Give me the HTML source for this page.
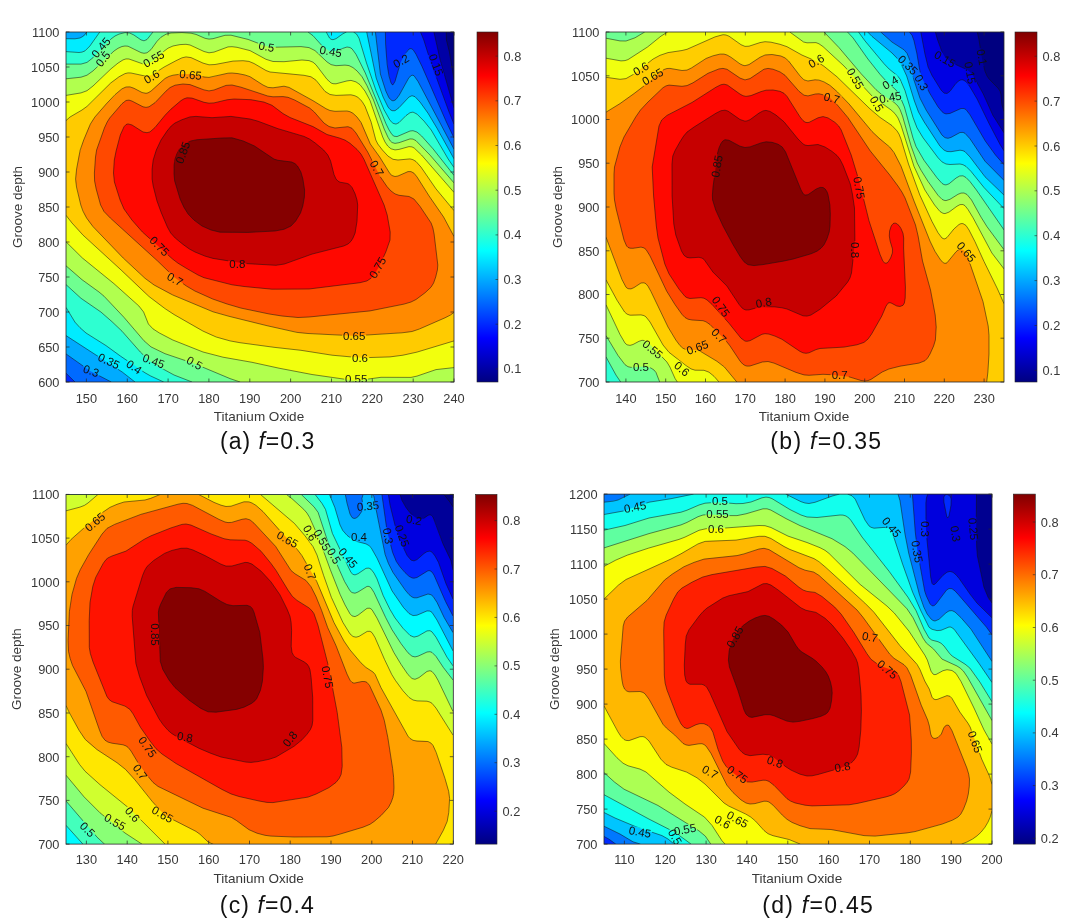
<!DOCTYPE html><html><head><meta charset="utf-8"><style>
html,body{margin:0;padding:0;background:#fff;width:1080px;height:924px;overflow:hidden}
svg{display:block}
.tk{font-family:"Liberation Sans",Arial,sans-serif;font-size:12.8px;fill:#383838}
.al{font-family:"Liberation Sans",Arial,sans-serif;font-size:13.5px;fill:#383838}
.cl{font-family:"Liberation Sans",Arial,sans-serif;font-size:11.5px;fill:#111;text-anchor:middle;dominant-baseline:central}
.cap{font-family:"Liberation Sans",Arial,sans-serif;font-size:23px;fill:#111}
</style></head><body>
<svg width="1080" height="924" viewBox="0 0 1080 924">
<clipPath id="clipa"><rect x="66" y="32" width="388" height="350"/></clipPath>
<g clip-path="url(#clipa)">
<rect x="66" y="32" width="388" height="350" fill="#000080"/>
<path d="M67 32l379.3 0l0.1 8l3 12l4.6 27.4l0 302.6l-388 0l0 -350l1 0z" fill="#0000a6" fill-rule="evenodd"/>
<path d="M67 32l366.9 0l6.3 28l13.8 47.9l0 274.1l-388 0l0 -350l1 0z" fill="#0000e7" fill-rule="evenodd"/>
<path d="M67 32l353.5 0l3.3 8l6.6 21l18.3 50l5.3 13.2l0 257.8l-388 0l0 -350l1 0z" fill="#0029ff" fill-rule="evenodd"/>
<path d="M67 32l318.4 0l0.7 20l1.9 18.6l3 12.2l1 1.7l1 0.3l2 -3.4l5.4 -18.4l3.6 -7.2l3 -4.8l2 -2l2 -0.5l2 1.1l3 4.6l6 12.2l24.4 55.6l7.6 16l0 244l-379 0l-1 -0.9l-8 -7.9l0 -341.2l1 0z" fill="#006aff" fill-rule="evenodd"/>
<path d="M67 32l308.4 0l5 42l5.4 17l3.2 6.9l3 2.8l2 0l2 -1.3l3.3 -4.4l9.7 -17.5l3 -2.4l2 0.6l4 5.7l36 67.8l0 232.8l-342.7 0l-21.2 -11l-24.1 -17.1l0 -321.9l1 0z" fill="#00abff" fill-rule="evenodd"/>
<path d="M87 32l279.7 0l9.5 46l6.9 19l4.9 10l2 2.4l2 1.3l3 0l4 -3l10 -10.7l3 -1.3l3 1l5 5.3l8 11.2l9 15l17 30.6l0 223.2l-319 0l-12.8 -10l-56.2 -36.4l0 -296.9l9 0.1l5 -0.8l3.6 -2l3.4 -4z" fill="#00ecff" fill-rule="evenodd"/>
<path d="M99 32.8l0.8 -0.8l226.4 0l3.3 6l1.5 1.3l2 0.4l3 -1l7 -5l3.5 -1.7l7 0l2.5 1.5l2 2.5l1.7 4l6.8 23l10.5 30.2l7 16.5l6 10.7l3 2.9l3 0.8l3 -1.5l7 -7l4 -2.9l3 -0.6l4 2l7 7l7.2 8.9l17 29l5.8 8.5l0 214.5l-290.3 0l-13 -6l-6.7 -3.9l-38 -26.5l-18.5 -11.6l-8.3 -7l-5.2 -6.2l-8 -13.4l0 -255.8l13 0.9l3 -0.4l2.8 -1.1l5.1 -5l9.1 -13.2z" fill="#2effd1" fill-rule="evenodd"/>
<path d="M123 32.9l4 -0.3l4 0.9l10 6.4l3 0.9l3 -1.3l6 -7.5l155 0l5 3.7l10 11.1l6 3.9l3 0.5l3 -0.3l12 -3.9l3 0.5l3 2.3l4 6.4l9 18.3l20 49.3l3 6.1l3 4.7l2 1.6l3 0.4l13 -5.6l3 -0.3l4 1.4l4.6 3.9l11.4 12.8l21 26.6l0 206.6l-262 0l-18 -7l-17 -9.3l-8 -5.3l-8.7 -8.4l-18.3 -20.8l-10 -9.5l-11.1 -9.7l-19.9 -13.7l-15 -13.7l0 -220.5l15 0l6 -1.7l6 -4.7l14 -14.9l5 -4.6l5 -3.3l6 -2z" fill="#6fff90" fill-rule="evenodd"/>
<path d="M171 33l11 -0.4l9 0.6l5 1.2l9 3.9l4 0.8l4 -0.4l12 -3.4l6 -0.1l17 4.2l16 6.1l5 1.2l8 0.4l23 -0.5l7 0.6l4 1.1l4 2.3l12 11.3l4 2.7l5 1.1l11 -0.5l4 1.2l4 2.7l4 3.8l6 8.8l8.1 17.3l11.5 31l3.4 7.3l2.3 3.7l1.7 1.5l3 0.9l4 -0.7l11 -3.8l3 0.2l3 1.6l14 14.4l24 27.8l0 199.1l-213.9 0l-3.1 -0.8l-43 -17.7l-29 -9.8l-9 -4l-6 -3.5l-7 -6.5l-19 -22.3l-20 -21.2l-5 -4.2l-17 -12.3l-16 -13.9l0 -187l15 -1.6l6 -2l6 -4.3l21 -19.9l4 -2.7l4 -1.8l3 -0.5l3 0.2l13 6.4l3 0.7l3 -0.5l4 -3.2l6 -8.3l4 -4.1l5 -3l5 -1.2z" fill="#b1ff4e" fill-rule="evenodd"/>
<path d="M178 44.9l6 -0.7l5 0.5l5 1.9l10 4.9l5 1.3l5 -0.7l14 -5.2l4 -0.2l5 0.6l13 3.3l16 8.7l7 2.2l9 0.2l19 -1.7l7 0.4l4 1.3l3 2.1l12 15.5l4.1 3.7l1.9 0.7l3 0.1l14 -3.4l3 0.3l3 1.2l3 1.9l3 3l7 11.5l3 7.3l10.7 31.4l2.3 5l3 4.3l3 2.5l4 1.1l4 -0.5l10 -2.8l3 0.3l2 0.9l7 6.7l30.4 34.5l2.6 3.4l0 175.2l-18 2l-19 6.5l-6 1.3l-30 -0.1l-21 2.9l-7 0.2l-41 -5.9l-33 -6.3l-27 -5.9l-29 -5.1l-20 -5.2l-30.2 -12l-13.4 -7l-6.4 -4.1l-4.6 -4.9l-4.8 -12l-4.7 -6l-24.9 -22.3l-31.6 -25.7l-16.4 -16.2l0 -146.4l15 -2.5l6 -2.2l6 -4.7l18 -17.2l7 -5.7l5 -3.2l3 -1l3 0.1l13 4.6l3 0.5l3 -0.4l6 -3.3l10 -9.2l4 -3l4 -1.9l6 -1.4z" fill="#f2ff0d" fill-rule="evenodd"/>
<path d="M185 57l3 -0.1l3 0.7l13 5.9l6 1.4l5 -0.4l17 -3.3l9 -0.5l6 0.3l6 2l11 6.5l6 2.5l5 0.8l15 0.9l19 2.4l3 1.1l3 2l9 11.2l5 3.7l6 1.3l12 -0.7l5 0.3l5 1.8l4 3.3l4 6.2l5 12.5l6.2 22.2l2.3 4l3.9 5l5.6 6.1l5 3.2l5 0.7l12 -1.1l3 0.8l3 1.8l5 5.6l15 21.8l18 21.7l0 130.3l-36 10.9l-14 3.2l-14 1.9l-28 0.9l-29 -2.5l-33 -5.1l-30 -3.4l-34.6 -4.8l-12.7 -3l-11.7 -4l-12 -6.1l-27 -15.6l-14 -9.9l-14 -11.2l-22 -21.3l-41.1 -37.9l-9.8 -11l-5.1 -6.7l0 -94.7l4 -3.6l12 -7l5 -3.6l7 -6.4l16 -16.4l6 -4.7l6 -3.9l4 -1.7l4 -0.4l14 2.9l6 -0.3l4 -1.9l15 -9.3l11 -5.6l5 -1.7z" fill="#ffcb00" fill-rule="evenodd"/>
<path d="M183 74l9 0.2l16 3.3l5 -0.6l11 -2.9l6 -1l6 0.3l8 1.4l7 2.5l11.9 7.8l5.1 2.4l5 0.4l11 -1.6l5 1.2l24 13.3l13 8l4 1.8l5 0.8l13 -0.1l4 1.4l3 2.3l4 4.6l3 4.7l8.8 20.8l8.9 12l10.3 16.7l2 1.8l3 1l3 -0.5l10 -4.4l3 0l3 1.6l3 3.7l12.1 19.1l13.9 20l8.9 16l2.1 4.5l0 75.9l-7 4.5l-25.2 11.1l-7.8 3l-6 1.2l-54 3.6l-53 -2.8l-26 -5.4l-42 -10.3l-20 -5.5l-43 -18.1l-16 -8.8l-9 -6.6l-22.8 -21.3l-28.8 -30l-4.2 -5l-4.4 -7l-4 -10l-5.1 -23l0.2 -8l3 -18l3.6 -13l6 -15l3.6 -7l4.4 -6l11.5 -13l12 -11.7l5 -3l4 -0.6l4 1.1l10 5.1l4 0.2l4 -2l11 -10.3l5 -3.5l6 -2.1l10 -1.2z" fill="#ff8a00" fill-rule="evenodd"/>
<path d="M183 84l7 0.6l14 5.3l5 1l5 -0.9l12 -4.6l6 -0.4l9 2.2l26.7 8.8l5.3 0.8l10 -0.2l5 0.7l6.6 2.7l15 8l4.7 4l9.6 11l5.1 3.5l6 1.5l13 -1.3l4 1.6l4 4.7l11.7 19l12.7 25l6.6 9.6l4 4.4l4 2.9l4 1.4l10 1.2l4.9 2.5l6.1 7.4l11.1 16.6l1.8 5l1.2 6l3.7 31l-0.4 5l-1.7 7l-2.1 6l-2.6 4.2l-6 5.6l-9 6.7l-5 2.5l-7 2.1l-34 6.8l-61 6.1l-11 0.5l-16 -1.5l-12.7 -2l-28.3 -5.9l-13.9 -4.1l-14.4 -5l-17.8 -8l-8.5 -5l-11.4 -8.2l-17.4 -16.8l-47.3 -43l-6.3 -6.5l-3.4 -6.5l-4.4 -16l-1.6 -8l-0.2 -8l1.1 -16l1.1 -7l7.8 -22l2.8 -6l2.5 -4l12.3 -14.3l4 -3.2l3 -0.4l3 1l11 5.7l3 0.6l3 -0.6l6 -4.1l11 -11.6l4 -3.5l5 -2.4l8 -1.2z" fill="#ff4900" fill-rule="evenodd"/>
<path d="M187 97.8l5 0.3l12 4.2l5 0.9l5 -0.3l13 -3.1l7 -0.8l17 0.7l13 2.4l8 3.2l11 8.3l7 3.9l23 9.1l14 7.9l12.4 3.5l5.6 2.1l5 3.2l7 6.1l4 4.7l3 5.3l20.1 45.6l3.1 10l3 17l-0.2 8l-4.2 12l-7 15l-4.2 7l-3.3 4l-4.3 2.9l-7 1.8l-51 6.3l-37 0.2l-28 -2.7l-12 -1.7l-28 -7.1l-6 -2.7l-12 -6.9l-8 -4.9l-5.5 -4.2l-30.1 -27l-10.5 -12l-7.9 -11l-3.9 -9l-5.7 -18l-0.9 -9l0.8 -13l1.8 -9l4.2 -16l3.7 -8.2l2 -2.2l2 -0.7l4 1.1l11 7l4 0.7l3 -0.8l5 -4.4l10 -12.2l6 -6.2l10 -8.5l3 -1.8l3 -1z" fill="#ff0800" fill-rule="evenodd"/>
<path d="M190 116.9l6 -0.5l16 1.3l19 -1.3l19 2.6l8 2.2l20 7.5l26 7.7l5.5 2.6l5.7 4l8.4 7l4.2 5l2.8 6l3.4 13.5l2 4.5l2 2.1l2 1.1l7 1.2l2 0.8l3 3.2l3 6.2l2 6.4l0.7 5l-0.7 16.3l-1.9 11.7l-2.1 5l-2 3.3l-3 2.7l-4.3 2l-31.7 8.1l-27.6 9.9l-8.4 1.3l-31 -1.8l-32 -5.1l-8 -2.3l-10 -4.1l-5.6 -3l-6.4 -4.6l-7.8 -6.4l-4.5 -5l-3.3 -6l-6 -14l-4.4 -12l-3.8 -15l-1.1 -7l0 -10l1.1 -9l3.1 -10l4.7 -10l6 -8.9l4.2 -5.1l3.8 -3l7 -3.3l8 -2.8z" fill="#c60000" fill-rule="evenodd"/>
<path d="M222 138l10 -0.2l11.3 3.2l11.2 5l19.5 13.1l4 1.2l13.6 1.7l3.4 1.6l2.5 2.4l3.4 6l2 7l1.7 11l-0.2 7l-1.6 9l-2.3 7l-4.8 8l-4.7 5l-7 3.3l-9 1.7l-27 1.4l-28 -0.2l-9 -2.2l-9 -4l-8 -5.9l-5.9 -6.1l-4.1 -6.6l-3.9 -8.4l-5.4 -18l-0.7 -7l0.1 -9l0.9 -6l1.8 -5l2.2 -4.2l3 -3.6l4 -3l5 -2.3l6 -1.2l25 -1.7z" fill="#850000" fill-rule="evenodd"/>
<mask id="ma" maskUnits="userSpaceOnUse" x="66" y="32" width="388" height="350"><rect x="66" y="32" width="388" height="350" fill="#fff"/><rect x="89.0" y="43.0" width="23.9" height="9.0" fill="#000" transform="rotate(-50 101.0 47.5)"/><rect x="93.8" y="54.5" width="18.3" height="9.0" fill="#000" transform="rotate(-50 103.0 59.0)"/><rect x="141.7" y="54.5" width="23.9" height="9.0" fill="#000" transform="rotate(-30 153.6 59.0)"/><rect x="142.4" y="72.2" width="18.3" height="9.0" fill="#000" transform="rotate(-30 151.6 76.7)"/><rect x="178.7" y="70.3" width="23.9" height="9.0" fill="#000" transform="rotate(5 190.6 74.8)"/><rect x="257.4" y="42.2" width="18.3" height="9.0" fill="#000" transform="rotate(10 266.5 46.7)"/><rect x="318.9" y="46.9" width="23.9" height="9.0" fill="#000" transform="rotate(10 330.8 51.4)"/><rect x="391.9" y="56.5" width="18.3" height="9.0" fill="#000" transform="rotate(-30 401.0 61.0)"/><rect x="424.1" y="60.5" width="23.9" height="9.0" fill="#000" transform="rotate(70 436.0 65.0)"/><rect x="170.9" y="148.2" width="23.9" height="9.0" fill="#000" transform="rotate(-70 182.8 152.7)"/><rect x="367.7" y="163.8" width="18.3" height="9.0" fill="#000" transform="rotate(60 376.8 168.3)"/><rect x="147.5" y="241.7" width="23.9" height="9.0" fill="#000" transform="rotate(45 159.4 246.2)"/><rect x="228.2" y="259.2" width="18.3" height="9.0" fill="#000" transform="rotate(0 237.3 263.7)"/><rect x="365.7" y="263.1" width="23.9" height="9.0" fill="#000" transform="rotate(-60 377.6 267.6)"/><rect x="165.8" y="274.8" width="18.3" height="9.0" fill="#000" transform="rotate(30 175.0 279.3)"/><rect x="342.2" y="331.3" width="23.9" height="9.0" fill="#000" transform="rotate(0 354.2 335.8)"/><rect x="350.9" y="353.9" width="18.3" height="9.0" fill="#000" transform="rotate(0 360.0 358.4)"/><rect x="344.2" y="374.2" width="23.9" height="9.0" fill="#000" transform="rotate(0 356.2 378.7)"/><rect x="82.1" y="366.4" width="18.3" height="9.0" fill="#000" transform="rotate(20 91.2 370.9)"/><rect x="96.8" y="356.6" width="23.9" height="9.0" fill="#000" transform="rotate(25 108.8 361.1)"/><rect x="124.8" y="362.5" width="18.3" height="9.0" fill="#000" transform="rotate(35 134.0 367.0)"/><rect x="141.7" y="356.6" width="23.9" height="9.0" fill="#000" transform="rotate(20 153.6 361.1)"/><rect x="185.3" y="358.5" width="18.3" height="9.0" fill="#000" transform="rotate(30 194.5 363.0)"/></mask>
<path d="M446.3 32l0.1 8l3 12l4.6 27.4 M433.9 32l6.3 28l13.8 47.9 M420.5 32l3.3 8l6.6 21l18.3 50l5.3 13.2 M385.4 32l0.2 12l1.5 20l1.9 12l2 6.8l1 1.7l1 0.3l2 -3.4l5.1 -17.4l4.9 -9.9l4 -5.1l2 -0.5l2 1.1l3 4.6l6 12.2l24.4 55.6l7.6 16M75 382l-9 -8.8 M375.4 32l5 42l5.4 17l3.2 6.9l3 2.8l2 0l2 -1.3l3.3 -4.4l9.7 -17.5l3 -2.4l2 0.6l4 5.7l36 67.8M111.3 382l-21.2 -11l-24.1 -17.1 M366.7 32l9.5 46l6.9 19l4.9 10l2 2.4l2 1.3l3 0l4 -3l10 -10.7l3 -1.3l3 1l5 5.3l8 11.2l9 15l17 30.6M66 38.7l9 0.1l5 -0.8l3.6 -2l3.3 -4M135 382l-12.8 -10l-56.2 -36.4 M326.2 32l3.3 6l1.5 1.3l2 0.4l3 -1l7 -5l3.5 -1.7M353.5 32l3 2l2.5 4.2l7.5 24.8l9.5 27.6l8 19.1l6 10.7l3 2.9l3 0.8l3 -1.5l7 -7l4 -2.9l3 -0.6l4 2l7 7l7.2 8.9l17 29l5.8 8.5M66 51.6l13 0.9l3 -0.4l3 -1.2l4.9 -4.9l9.9 -14M163.7 382l-13 -6l-5.7 -3.2l-24.7 -16.8l-14.3 -10.4l-20 -12.6l-6 -5.3l-5 -5.5l-9 -14.8 M308 32l5 3.7l10 11.1l6 3.9l3 0.5l3 -0.3l12 -3.9l3 0.5l2 1.3l4 5.5l9.3 18.7l20.7 50.8l3 6.1l3 4.7l2 1.6l3 0.4l13 -5.6l3 -0.3l4 1.4l4.6 3.9l11.4 12.8l21 26.6M66 64.1l15 0l6 -1.7l6 -4.7l18 -18.7l4 -3l4 -1.9l6 -1.5l4.6 0.4l4.3 2l7.1 4.9l3 0.9l3 -1.3l6 -7.5M192 382l-18 -7l-17 -9.3l-8 -5.3l-8.7 -8.4l-18.3 -20.8l-10 -9.5l-11.1 -9.7l-19.9 -13.7l-15 -13.7 M66 78.8l15 -1.6l6 -2l6 -4.3l21 -19.9l4 -2.7l4 -1.8l3 -0.5l3 0.2l13 6.4l3 0.7l3 -0.5l4 -3.2l6 -8.3l4 -4.1l5 -3l5 -1.2l11 -0.4l9 0.6l5 1.2l9 3.9l4 0.8l4 -0.4l12 -3.4l6 -0.1l17 4.2l16 6.1l5 1.2l7 0.5l25 -0.6l8 1l6 3l12 11.3l4 2.7l5 1.1l9 -0.6l4 0.5l4 2l4 3.3l5 5.8l5 9l6.5 14.3l10.7 29l3.8 8.3l2.3 3.7l1.7 1.5l3 0.9l4 -0.7l11 -3.8l3 0.2l3 1.6l14 14.4l24 27.8M240.1 382l-10.1 -3.4l-36 -15.1l-29 -9.8l-14 -6.8l-7 -6.1l-20 -23.4l-20 -21.2l-5 -4.2l-17 -12.3l-16 -13.9 M66 95.4l15 -2.5l6 -2.2l6 -4.7l18 -17.2l7 -5.7l5 -3.2l3 -1l3 0.1l13 4.6l3 0.5l3 -0.4l6 -3.3l10 -9.2l4 -3l5 -2.2l7 -1.4l6 -0.3l4 0.7l14 6.5l5 1.3l5 -0.7l14 -5.2l4 -0.2l5 0.6l13 3.3l16 8.7l7 2.2l11 0.2l18 -1.7l7 0.6l4 1.6l3 2.6l11 14.5l4.1 3.7l1.9 0.7l3 0.1l11 -2.9l4 -0.5l5 1.5l4 2.8l5 6.4l5 9.4l12.7 36.5l2.3 5l2.7 4l3.3 2.8l4 1.1l4 -0.5l10 -2.8l3 0.3l2.2 1.1l7.3 7l32.5 37.4M454 367.6l-18 2l-19 6.5l-6 1.3l-30 -0.1l-21 2.9l-7 0.2l-41 -5.9l-33 -6.3l-27 -5.9l-29 -5.1l-20 -5.2l-30.2 -12l-13.4 -7l-6.4 -4.1l-4.6 -4.9l-4.8 -12l-4.7 -6l-24.9 -22.3l-31.6 -25.7l-16.4 -16.2 M66 120.6l4 -3.6l12 -7l5 -3.6l23.7 -23.4l8.3 -6.2l6 -3.2l3 -0.7l3 0.1l13 2.8l6 -0.3l4 -1.9l10 -6.5l12 -6.4l6 -2.9l4 -0.9l5 0.7l12 5.5l6 1.7l6 -0.3l18 -3.4l10 -0.4l6 0.7l5 2.1l12 7l4 1.5l34 3.3l7 1.5l5 3.4l9 11.2l5 3.1l6 0.9l15 -0.6l4 1l3 1.6l4 3.9l3 5l6.1 15.7l4.7 18l2 4l4.6 6l5.6 6.1l5 3.2l5 0.7l12 -1.1l3 0.8l3 1.8l5 5.6l15 21.8l18 21.7M454 340.9l-37 11.2l-14 3.1l-13 1.7l-29 0.9l-29 -2.6l-31 -4.9l-27 -3l-34 -4.6l-10 -1.8l-13.8 -3.9l-13.2 -5.9l-29 -16.6l-9 -5.9l-16 -12.1l-27.9 -26.5l-38.1 -34.9l-11 -12.1l-6 -7.7 M454 312.4l-3.5 2.6l-5.5 2.8l-25.6 11.2l-7.4 2.5l-10 1.3l-48 3l-46 -2.3l-11 -1.1l-30 -6.7l-38 -9.4l-16 -4.5l-40.2 -16.8l-18.7 -10l-9.1 -6.7l-21.8 -20.3l-30.2 -31.4l-6.4 -8.6l-3.7 -7l-2.1 -6l-4.3 -18l-0.9 -8l1 -10l3.6 -19l3.5 -10l6.7 -16l4.5 -7l11.3 -13l8.8 -9.3l7 -5.9l4 -1.8l4 -0.1l4 1.4l8 4.2l4 0.8l2 -0.4l3 -1.8l14 -12.6l4 -2.1l4 -1.2l8 -1.1l8 -0.2l5 0.6l10 2.5l5 0.4l19 -4.2l4 -0.2l6 0.6l7 1.4l5 1.7l13 8.3l5 2.4l5 0.4l11 -1.6l5 1.2l24 13.3l13 8l4 1.8l5 0.8l12 -0.3l3 0.7l3 1.6l4 3.7l4 5.4l9.3 21.6l9.4 13l10.3 16.7l2 1.8l3 1l3 -0.5l10 -4.4l3 0l3 1.6l3 3.7l12.1 19.1l14.5 21l10.4 19.5 M183 84l7 0.6l14 5.3l5 1l5 -0.9l12 -4.6l6 -0.4l9 2.2l26.7 8.8l5.3 0.8l10 -0.2l5 0.7l6.6 2.7l15 8l4.7 4l9.6 11l5.1 3.5l6 1.5l13 -1.3l4 1.6l4 4.7l11.7 19l12.7 25l6.6 9.6l4 4.4l4 2.9l4 1.4l10 1.2l4.9 2.5l6.1 7.4l11.1 16.6l1.8 5l1.2 6l3.7 31l-0.4 5l-1.7 7l-2.1 6l-2.6 4.2l-6 5.6l-9 6.7l-5 2.5l-7 2.1l-34 6.8l-61 6.1l-11 0.5l-16 -1.5l-12.7 -2l-28.3 -5.9l-13.9 -4.1l-14.4 -5l-17.8 -8l-8.5 -5l-11.4 -8.2l-17.4 -16.8l-47.3 -43l-6.3 -6.5l-3.4 -6.5l-4.4 -16l-1.6 -8l-0.2 -8l1.1 -16l1.1 -7l7.8 -22l2.8 -6l2.5 -4l12.3 -14.3l4 -3.2l3 -0.4l3 1l11 5.7l3 0.6l3 -0.6l6 -4.1l11 -11.6l4 -3.5l5 -2.4l8 -1.2 M187 97.8l5 0.3l12 4.2l5 0.9l5 -0.3l13 -3.1l7 -0.8l17 0.7l13 2.4l8 3.2l11 8.3l7 3.9l23 9.1l14 7.9l12.4 3.5l5.6 2.1l5 3.2l7 6.1l4 4.7l3 5.3l20.1 45.6l3.1 10l3 17l-0.2 8l-4.2 12l-7 15l-4.2 7l-3.3 4l-4.3 2.9l-7 1.8l-51 6.3l-37 0.2l-28 -2.7l-12 -1.7l-28 -7.1l-6 -2.7l-12 -6.9l-8 -4.9l-5.5 -4.2l-30.1 -27l-10.5 -12l-7.9 -11l-3.9 -9l-5.7 -18l-0.9 -9l0.8 -13l1.8 -9l4.2 -16l3.7 -8.2l2 -2.2l2 -0.7l4 1.1l11 7l4 0.7l3 -0.8l5 -4.4l10 -12.2l6 -6.2l10 -8.5l3 -1.8l3 -1 M190 116.9l6 -0.5l16 1.3l19 -1.3l19 2.6l8 2.2l20 7.5l26 7.7l5.5 2.6l5.7 4l8.4 7l4.2 5l2.8 6l3.4 13.5l2 4.5l2 2.1l2 1.1l7 1.2l2 0.8l3 3.2l3 6.2l2 6.4l0.7 5l-0.7 16.3l-1.9 11.7l-2.1 5l-2 3.3l-3 2.7l-4.3 2l-31.7 8.1l-27.6 9.9l-8.4 1.3l-31 -1.8l-32 -5.1l-8 -2.3l-10 -4.1l-5.6 -3l-6.4 -4.6l-7.8 -6.4l-4.5 -5l-3.3 -6l-6 -14l-4.4 -12l-3.8 -15l-1.1 -7l0 -10l1.1 -9l3.1 -10l4.7 -10l6 -8.9l4.2 -5.1l3.8 -3l7 -3.3l8 -2.8 M222 138l10 -0.2l11.3 3.2l11.2 5l19.5 13.1l4 1.2l13.6 1.7l3.4 1.6l2.5 2.4l3.4 6l2 7l1.7 11l-0.2 7l-1.6 9l-2.3 7l-4.8 8l-4.7 5l-7 3.3l-9 1.7l-27 1.4l-28 -0.2l-9 -2.2l-9 -4l-8 -5.9l-5.9 -6.1l-4.1 -6.6l-3.9 -8.4l-5.4 -18l-0.7 -7l0.1 -9l0.9 -6l1.8 -5l2.2 -4.2l3 -3.6l4 -3l5 -2.3l6 -1.2l25 -1.7" fill="none" stroke="#111" stroke-opacity="0.8" stroke-width="0.65" mask="url(#ma)"/>
<text x="101" y="47.5" transform="rotate(-50 101 47.5)" class="cl">0.45</text>
<text x="103" y="59" transform="rotate(-50 103 59)" class="cl">0.5</text>
<text x="153.6" y="59" transform="rotate(-30 153.6 59)" class="cl">0.55</text>
<text x="151.6" y="76.7" transform="rotate(-30 151.6 76.7)" class="cl">0.6</text>
<text x="190.6" y="74.8" transform="rotate(5 190.6 74.8)" class="cl">0.65</text>
<text x="266.5" y="46.7" transform="rotate(10 266.5 46.7)" class="cl">0.5</text>
<text x="330.8" y="51.4" transform="rotate(10 330.8 51.4)" class="cl">0.45</text>
<text x="401" y="61" transform="rotate(-30 401 61)" class="cl">0.2</text>
<text x="436" y="65" transform="rotate(70 436 65)" class="cl">0.15</text>
<text x="182.8" y="152.7" transform="rotate(-70 182.8 152.7)" class="cl">0.85</text>
<text x="376.8" y="168.3" transform="rotate(60 376.8 168.3)" class="cl">0.7</text>
<text x="159.4" y="246.2" transform="rotate(45 159.4 246.2)" class="cl">0.75</text>
<text x="237.3" y="263.7" transform="rotate(0 237.3 263.7)" class="cl">0.8</text>
<text x="377.6" y="267.6" transform="rotate(-60 377.6 267.6)" class="cl">0.75</text>
<text x="175" y="279.3" transform="rotate(30 175 279.3)" class="cl">0.7</text>
<text x="354.2" y="335.8" transform="rotate(0 354.2 335.8)" class="cl">0.65</text>
<text x="360" y="358.4" transform="rotate(0 360 358.4)" class="cl">0.6</text>
<text x="356.2" y="378.7" transform="rotate(0 356.2 378.7)" class="cl">0.55</text>
<text x="91.2" y="370.9" transform="rotate(20 91.2 370.9)" class="cl">0.3</text>
<text x="108.8" y="361.1" transform="rotate(25 108.8 361.1)" class="cl">0.35</text>
<text x="134" y="367" transform="rotate(35 134 367)" class="cl">0.4</text>
<text x="153.6" y="361.1" transform="rotate(20 153.6 361.1)" class="cl">0.45</text>
<text x="194.5" y="363" transform="rotate(30 194.5 363)" class="cl">0.5</text>
</g>
<rect x="66" y="32" width="388" height="350" fill="none" stroke="#262626" stroke-width="0.8"/>
<text x="86.4" y="402.5" class="tk" text-anchor="middle">150</text>
<text x="127.3" y="402.5" class="tk" text-anchor="middle">160</text>
<text x="168.1" y="402.5" class="tk" text-anchor="middle">170</text>
<text x="208.9" y="402.5" class="tk" text-anchor="middle">180</text>
<text x="249.8" y="402.5" class="tk" text-anchor="middle">190</text>
<text x="290.6" y="402.5" class="tk" text-anchor="middle">200</text>
<text x="331.5" y="402.5" class="tk" text-anchor="middle">210</text>
<text x="372.3" y="402.5" class="tk" text-anchor="middle">220</text>
<text x="413.2" y="402.5" class="tk" text-anchor="middle">230</text>
<text x="454.0" y="402.5" class="tk" text-anchor="middle">240</text>
<text x="59.5" y="386.8" class="tk" text-anchor="end">600</text>
<text x="59.5" y="351.8" class="tk" text-anchor="end">650</text>
<text x="59.5" y="316.8" class="tk" text-anchor="end">700</text>
<text x="59.5" y="281.8" class="tk" text-anchor="end">750</text>
<text x="59.5" y="246.8" class="tk" text-anchor="end">800</text>
<text x="59.5" y="211.8" class="tk" text-anchor="end">850</text>
<text x="59.5" y="176.8" class="tk" text-anchor="end">900</text>
<text x="59.5" y="141.8" class="tk" text-anchor="end">950</text>
<text x="59.5" y="106.8" class="tk" text-anchor="end">1000</text>
<text x="59.5" y="71.8" class="tk" text-anchor="end">1050</text>
<text x="59.5" y="36.8" class="tk" text-anchor="end">1100</text>
<path d="M86.4 382.0v-3.5M86.4 32.0v3.5M127.3 382.0v-3.5M127.3 32.0v3.5M168.1 382.0v-3.5M168.1 32.0v3.5M208.9 382.0v-3.5M208.9 32.0v3.5M249.8 382.0v-3.5M249.8 32.0v3.5M290.6 382.0v-3.5M290.6 32.0v3.5M331.5 382.0v-3.5M331.5 32.0v3.5M372.3 382.0v-3.5M372.3 32.0v3.5M413.2 382.0v-3.5M413.2 32.0v3.5M454.0 382.0v-3.5M454.0 32.0v3.5M66.0 382.0h3.5M454.0 382.0h-3.5M66.0 347.0h3.5M454.0 347.0h-3.5M66.0 312.0h3.5M454.0 312.0h-3.5M66.0 277.0h3.5M454.0 277.0h-3.5M66.0 242.0h3.5M454.0 242.0h-3.5M66.0 207.0h3.5M454.0 207.0h-3.5M66.0 172.0h3.5M454.0 172.0h-3.5M66.0 137.0h3.5M454.0 137.0h-3.5M66.0 102.0h3.5M454.0 102.0h-3.5M66.0 67.0h3.5M454.0 67.0h-3.5M66.0 32.0h3.5M454.0 32.0h-3.5" stroke="#262626" stroke-width="0.7" fill="none"/>
<linearGradient id="ga" x1="0" y1="0" x2="0" y2="1"><stop offset="0.0000" stop-color="#800000"/><stop offset="0.0312" stop-color="#9f0000"/><stop offset="0.0625" stop-color="#bf0000"/><stop offset="0.0938" stop-color="#df0000"/><stop offset="0.1250" stop-color="#ff0000"/><stop offset="0.1562" stop-color="#ff2000"/><stop offset="0.1875" stop-color="#ff4000"/><stop offset="0.2188" stop-color="#ff6000"/><stop offset="0.2500" stop-color="#ff8000"/><stop offset="0.2812" stop-color="#ff9f00"/><stop offset="0.3125" stop-color="#ffbf00"/><stop offset="0.3438" stop-color="#ffdf00"/><stop offset="0.3750" stop-color="#ffff00"/><stop offset="0.4062" stop-color="#dfff20"/><stop offset="0.4375" stop-color="#bfff40"/><stop offset="0.4688" stop-color="#9fff60"/><stop offset="0.5000" stop-color="#80ff80"/><stop offset="0.5312" stop-color="#60ff9f"/><stop offset="0.5625" stop-color="#40ffbf"/><stop offset="0.5938" stop-color="#20ffdf"/><stop offset="0.6250" stop-color="#00ffff"/><stop offset="0.6562" stop-color="#00dfff"/><stop offset="0.6875" stop-color="#00bfff"/><stop offset="0.7188" stop-color="#009fff"/><stop offset="0.7500" stop-color="#0080ff"/><stop offset="0.7812" stop-color="#0060ff"/><stop offset="0.8125" stop-color="#0040ff"/><stop offset="0.8438" stop-color="#0020ff"/><stop offset="0.8750" stop-color="#0000ff"/><stop offset="0.9062" stop-color="#0000df"/><stop offset="0.9375" stop-color="#0000bf"/><stop offset="0.9688" stop-color="#00009f"/><stop offset="1.0000" stop-color="#000080"/></linearGradient>
<rect x="477" y="32" width="21" height="350" fill="url(#ga)" stroke="#262626" stroke-width="0.6"/>
<text x="503.5" y="373.4" class="tk">0.1</text>
<text x="503.5" y="328.7" class="tk">0.2</text>
<text x="503.5" y="284.0" class="tk">0.3</text>
<text x="503.5" y="239.4" class="tk">0.4</text>
<text x="503.5" y="194.7" class="tk">0.5</text>
<text x="503.5" y="150.0" class="tk">0.6</text>
<text x="503.5" y="105.3" class="tk">0.7</text>
<text x="503.5" y="60.6" class="tk">0.8</text>
<path d="M498.0 368.9h-2.5M498.0 324.2h-2.5M498.0 279.5h-2.5M498.0 234.9h-2.5M498.0 190.2h-2.5M498.0 145.5h-2.5M498.0 100.8h-2.5M498.0 56.1h-2.5" stroke="#262626" stroke-width="0.6"/>
<text x="259.0" y="421.2" class="al" text-anchor="middle">Titanium Oxide</text>
<text x="21.5" y="207.0" class="al" text-anchor="middle" transform="rotate(-90 21.5 207.0)">Groove depth</text>
<text x="267.1" y="449.2" class="cap" text-anchor="middle" textLength="94.2" lengthAdjust="spacing">(a) <tspan font-style="italic">f</tspan>=0.3</text>
<clipPath id="clipb"><rect x="606" y="32" width="398" height="350"/></clipPath>
<g clip-path="url(#clipb)">
<rect x="606" y="32" width="398" height="350" fill="#000080"/>
<path d="M607 32l370.2 0l1.5 6l3.5 22l2.8 11.3l2 4.7l2 2.9l8.9 9.1l2.1 3l0.9 3l1.1 11l2 6.5l0 270.5l-398 0l0 -350l1 0z" fill="#0000a2" fill-rule="evenodd"/>
<path d="M607 32l328.4 0l1.9 7l4 11l2.3 5l2.1 3l6.7 5l14.6 6.7l4 3.3l2.3 3l10 18l9.7 21.5l11 17.3l0 249.2l-398 0l0 -350l1 0z" fill="#0000e3" fill-rule="evenodd"/>
<path d="M607 32l313.8 0l4.2 22.2l3.1 12.8l3.9 8.4l9 14.6l3 3.1l3 0.4l3 -2.2l6 -8l3 -2.6l2 -0.9l2 0.1l3 1.7l4 5.3l7 11.9l12.3 25.2l10.7 20.4l4 6.4l0 231.2l-398 0l0 -350l1 0z" fill="#0025ff" fill-rule="evenodd"/>
<path d="M607 32l302.4 0l2.6 3.2l2 5.5l2.8 12.3l3.1 18l2.1 7l7.6 15l8.4 13.8l4 4.9l2 1.5l2 0.7l4 -0.5l11 -4.9l3 0l2 1.1l4 5.2l15.3 26.2l10.2 14l8.5 9.7l0 217.3l-398 0l0 -350l1 0z" fill="#0067ff" fill-rule="evenodd"/>
<path d="M607 32l273.7 0l11.3 10.1l12 7.7l3 3.5l1.7 3.7l5 22l6.3 19.2l6 11.6l15 24.1l3 3.2l2 1l2 0.2l3 -0.9l9 -4.9l3 -0.1l2 0.9l5 5.5l15 22.4l19 19.2l0 201.6l-398 0l0 -350l1 0z" fill="#00a8ff" fill-rule="evenodd"/>
<path d="M607 32l260.7 0l5 5l17.1 14l7.2 7.2l5 7.1l5 11.5l7 23.2l4 11l5.5 10l16.5 25.2l4 3.9l3 1.4l4 0.2l9 -1.5l3 0.5l2 1l5 5.3l15 19.8l19 18.3l0 186.9l-398 0l0 -350l1 0z" fill="#00e9ff" fill-rule="evenodd"/>
<path d="M607 32l251.5 0l6.5 8.9l19 22.8l5.1 5.3l7.9 6.4l3 3.6l5 11.6l8 26.8l4 10.4l6 9.9l15 20l4 4.2l4 2.1l4 0.5l10 -0.5l3 0.7l3 1.7l5 5l13 16.1l20 21.1l0 173.4l-398 0l0 -350l1 0z" fill="#2cffd3" fill-rule="evenodd"/>
<path d="M607 32l240.5 0l1.2 1l4.3 4.9l14.9 21.1l11.9 15l6.3 7l9.9 9l3 4l5.4 13l8.6 31l3 8.5l8 13.8l13 17.5l5 5.6l2 1.2l2 0.3l3 -1.1l7.1 -5.8l3.6 -2l3.3 -0.2l3 1.7l4 4.1l6.4 8.4l27.6 39.9l0 152.1l-383.3 0l-4.7 -6.9l-10 -18.2l0 -324.9l1 0z" fill="#6dff92" fill-rule="evenodd"/>
<path d="M644 32.5l0.7 -0.5l179.3 0l2.2 2l13.2 14l21.6 25.6l15 16.1l6.2 5.3l11.8 7.3l4 3.8l2 3.4l2.5 6.5l8.5 29.8l6.2 17.2l3.8 7.2l7 11.2l10 13.9l4 4l2 1l2 0.3l4 -1.3l8 -5l3 -1.2l3 -0.1l3 1.5l4.5 5.5l9.5 17.1l6 9.6l17 23l0 132.3l-344.3 0l-3.7 -9.5l-2 -2.5l-3 -1.9l-3 -1.1l-4 -0.5l-13 0.9l-3 -0.7l-3 -2l-7 -9.2l-12 -19.9l0 -297.4l14 2.7l6 0.1l9 -3.2l9 -5.3z" fill="#afff50" fill-rule="evenodd"/>
<path d="M666 32.8l1.6 -0.8l122.2 0l13.8 10l3.4 0.8l9 -0.2l3 1.2l4 2.8l21 19.4l29 31l21 15.5l3 3.8l3 6.1l14.3 44.6l10.7 23.2l10 15.3l5 6l3 1.8l2 0.3l4 -1.5l8 -5.9l3 -1.6l3 -0.1l2 1.2l3 3.8l5 8.2l18.9 35.3l12.1 15.9l0 113.1l-326.7 0l-2.3 -3.6l-5.1 -11.4l-3 -5l-18.9 -19.7l-3 -1.7l-3 -0.3l-3 1l-6 3.2l-3 0.9l-3 -0.6l-2 -1.7l-5 -8.6l-14 -29.7l0 -246.6l15 2.7l4 -0.3l3 -1l20 -12.9l13 -10.6l5 -3.3z" fill="#f0ff0f" fill-rule="evenodd"/>
<path d="M721 34.9l4 -0.1l3.6 1.2l12.4 8.7l4 1.7l4 -0.2l11 -3.6l5 -0.9l6 0.5l9 2.1l7 2.4l15 8.4l15 6.4l7 4.8l12 9.6l35 33.9l9 7.6l12 8.2l4 4l3 4.5l2 4.9l7.5 25l11.3 31l12.2 26.5l6 11.2l4 5.3l2 0.9l1 -0.1l2 -1.3l6.9 -8.5l5.1 -4.5l2 -0.9l2 0l3 1.9l3 4.5l6 11.7l9 19.8l13.5 27.5l6.5 14.7l0 78.3l-285 0l-5 -5.7l-5 -4.1l-5 -1.9l-9 -0.1l-4 -1.3l-5 -3.3l-16.2 -12.6l-6.2 -7l-13.6 -24l-4 -5.1l-2 -1.3l-3 -0.7l-9 0.5l-3 -0.4l-3 -1.6l-2 -2.1l-9 -14.6l-9 -16.8l0 -202.6l14 2l6 -0.7l7 -3.9l18 -14.2l8 -4.8l9 -3.1l14 -2.1l5 -1.2l27 -12l7 -2.4z" fill="#ffcd00" fill-rule="evenodd"/>
<path d="M722 54l3 0.3l3 1.2l12 8.4l3 1.4l2 0.4l4 -1.1l11.6 -7.6l5.4 -2.2l4 -0.3l5 0.3l5 1l4 1.5l5.5 4.7l10.5 13.9l4 4l3 1.1l8 -1.2l5 0.6l7 3.1l6 4.3l17 17.2l22 26.5l19.5 17.5l4.5 7l5 10.1l13 35l16.4 40.9l4.6 9.4l5 7.9l2 2.4l2 1.5l2 0.1l1 -0.5l9 -11l2 -1.7l2 -0.8l2 0.1l2 1l2 2.3l1.6 3.3l15.4 45.6l5.2 24.4l0.8 9.3l0 18.7l-1.1 18l-1.2 10l-249.9 0l-12.4 -15l-7.4 -5.7l-17 -10.2l-4 -1.1l-10 -0.4l-3 -1.3l-3 -2.7l-4.2 -5.6l-7.8 -13l-17 -35.4l-3 -5.4l-2 -2.4l-2 -1l-3 0.2l-7 4.6l-3 1.3l-3 -0.2l-2.2 -1.7l-3.8 -7.4l-16 -42.4l0 -125l14 -8.6l14 -10l13.8 -10.6l12.2 -10.8l4 -2.7l3 -1l3 -0.1l12 2.1l5 -0.4l4 -1.9l16 -10.1l9 -3.2l6 -0.9z" fill="#ff8b00" fill-rule="evenodd"/>
<path d="M719 68.9l4 -0.5l4 0.9l13 8.8l5 1.8l5 -1.3l14 -9.4l4 -0.8l5 0.8l7 2.7l5 3.4l14 16l5 3.9l4 0.7l7.4 -1.9l3.6 -0.2l5 1.2l6 3l6 5.4l12 14.3l22.3 33.3l19.7 24.3l8 10.8l4 6.1l3 5.7l10.5 27.1l2.6 11l4.4 25l8 29l4.7 25l1 12l-0.8 13l-1.8 6l-3.6 8l-2.4 4l-2.6 2.7l-6 2.4l-19 3.1l-11.1 2.8l-6.7 3l-11.2 7.4l-3 1.2l-3 0.5l-4 -0.6l-12 -3.7l-18 -2.1l-8 -0.4l-14 1l-5 -0.4l-8 -2.5l-22 -9.3l-6 -1.6l-5.6 0.5l-12.4 4l-3 0.1l-2 -0.6l-2.3 -1.5l-2.7 -3l-10 -15.1l-4 -5.1l-16 -16.3l-4 -2.7l-3 -1.1l-11 -0.7l-4 -0.8l-3 -1.7l-3 -3.1l-7 -9.8l-8.4 -13.6l-16.6 -35.1l-4 -6.4l-2 -1.6l-3 -0.8l-8 1.2l-3 -0.1l-2 -0.8l-1.4 -1.4l-2.6 -6l-7.8 -31l-1.7 -9l-0.5 -7l0 -19l0.5 -7l5.4 -20l4.1 -10l11.7 -20l4.8 -7l7.5 -8l15 -14.3l3 -1.8l3 -0.8l13 1.2l5 -0.7l6 -2.8l15 -9.5l11 -4.4z" fill="#ff4a00" fill-rule="evenodd"/>
<path d="M721 84.7l3 -0.5l3.3 0.8l12.7 9.1l3 1.6l3 0.7l5 -0.8l10 -4l5 -1.4l7 -0.2l7 1.3l4 2l3 3.1l13 20.5l3 3.7l2 1.5l2 0.5l2 -0.2l9 -4.6l5 -1.2l5 1.3l7 4.5l3.7 3.6l2.5 4l10 25l8.2 27l9.6 38.8l11 33.6l3 7l2 1.8l2 -0.2l1 -0.8l2.6 -4.2l1.8 -5l0.1 -4l-2.4 -8l-0.8 -5l0.3 -5l1.6 -5l1.8 -2.3l1 -0.5l2 0l3 2.3l2 3l2 4.8l0.7 4.7l-0.1 10l1.8 39l-0.2 11l-0.8 5l-1.4 2.3l-3 1.2l-3.2 -0.5l-5.8 -3.1l-2 -0.2l-1 0.5l-2 3l-4.2 9.8l-10.2 18l-3.6 5.1l-4 3.3l-7 2.4l-13 2.3l-24 1.4l-4 1.1l-7 3.2l-3 0.5l-3 -0.5l-3 -1.4l-18 -12.1l-7 -3.2l-6 -2l-4 -0.4l-3 0.6l-12 6.4l-3 0.6l-2 -0.2l-4 -2.9l-12.2 -15.2l-16.8 -18.6l-5 -4.5l-3 -1.7l-3 -0.5l-11 0.8l-3 -0.8l-2 -1.3l-6 -7.3l-10 -15.3l-4.2 -9.8l-6.8 -26l-1.7 -12l-2.7 -30l-1.4 -29l6.8 -41l2.7 -6l5.3 -4.6l25 -12.9l24 -15.3l5 -2.5z" fill="#ff0800" fill-rule="evenodd"/>
<path d="M721 110.7l4 -0.5l3 0.9l12 8.4l5 1.7l2 -0.3l3 -1.2l9 -6.6l4 -2.2l3 -0.5l4 1l6 3.7l8 6.7l14 17.2l5 4.9l2 1.2l3 0.5l10 -1.1l7 2.5l7 4.4l5 4.1l3 3.8l3 5.9l7.3 18.8l2.1 10l2.1 14l0.4 34l-3.4 31l-1.5 4.9l-2.3 4.1l-11.5 14l-16.2 13.3l-9 5.7l-4 1.1l-4 -0.3l-16 -6.8l-5 -1.2l-7 -0.9l-12 -0.3l-5 0.8l-9 2.5l-3 0.1l-2 -0.7l-2 -1.4l-3 -3.6l-12.1 -18.3l-14 -14l-8.9 -12.6l-2 -1.3l-3 -0.8l-9 0.6l-3 -0.5l-3 -2.1l-2.5 -4.3l-5.7 -16l-2 -11l-1.7 -28l-0.1 -32l0.8 -8l2.2 -5.3l5 -8.9l3.7 -5.8l3.3 -3.9l7.1 -5.1l21.9 -13.8l5 -2.5z" fill="#c60000" fill-rule="evenodd"/>
<path d="M725 139.7l4 0.6l11 5.9l5 1.3l5 -0.6l11 -4l5 -1.1l6 0.5l6 1.9l4.2 2.8l3.4 5l15.4 37.9l2.3 4.1l1.7 1.1l3 -0.4l8.2 -5.7l3.8 -1.6l3 0.1l2.2 1.5l1.8 2.8l1 2.8l1.9 10.4l0.4 9l-0.3 12l-0.8 6l-2.3 7l-2.9 5.8l-3 3.4l-4 3l-6 2.6l-17.8 5.2l-10.2 2.2l-20 3.4l-9 1l-6 -0.9l-4 -2.9l-4 -5.5l-7 -11.7l-10 -18.6l-7.3 -16l-3.1 -10l-0.2 -5l0.6 -8l4.6 -34l1.4 -5.1l2 -4.5l1.8 -2.4l2.2 -1.3z" fill="#850000" fill-rule="evenodd"/>
<mask id="mb" maskUnits="userSpaceOnUse" x="606" y="32" width="398" height="350"><rect x="606" y="32" width="398" height="350" fill="#fff"/><rect x="631.8" y="64.4" width="18.3" height="9.0" fill="#000" transform="rotate(-30 641.0 68.9)"/><rect x="640.7" y="72.2" width="23.9" height="9.0" fill="#000" transform="rotate(-30 652.6 76.7)"/><rect x="807.1" y="56.6" width="18.3" height="9.0" fill="#000" transform="rotate(-30 816.3 61.1)"/><rect x="843.3" y="74.1" width="23.9" height="9.0" fill="#000" transform="rotate(60 855.2 78.6)"/><rect x="822.7" y="93.6" width="18.3" height="9.0" fill="#000" transform="rotate(15 831.9 98.1)"/><rect x="867.5" y="99.5" width="18.3" height="9.0" fill="#000" transform="rotate(60 876.7 104.0)"/><rect x="878.4" y="92.8" width="23.9" height="9.0" fill="#000" transform="rotate(-10 890.3 97.3)"/><rect x="881.2" y="78.0" width="18.3" height="9.0" fill="#000" transform="rotate(-30 890.3 82.5)"/><rect x="895.9" y="60.5" width="23.9" height="9.0" fill="#000" transform="rotate(45 907.8 65.0)"/><rect x="912.3" y="78.0" width="18.3" height="9.0" fill="#000" transform="rotate(60 921.5 82.5)"/><rect x="932.9" y="54.7" width="23.9" height="9.0" fill="#000" transform="rotate(30 944.9 59.2)"/><rect x="972.7" y="52.7" width="18.3" height="9.0" fill="#000" transform="rotate(80 981.9 57.2)"/><rect x="958.2" y="68.3" width="23.9" height="9.0" fill="#000" transform="rotate(80 970.2 72.8)"/><rect x="705.0" y="161.8" width="23.9" height="9.0" fill="#000" transform="rotate(-80 716.9 166.3)"/><rect x="847.2" y="183.2" width="23.9" height="9.0" fill="#000" transform="rotate(80 859.1 187.7)"/><rect x="846.1" y="245.6" width="18.3" height="9.0" fill="#000" transform="rotate(90 855.2 250.1)"/><rect x="954.3" y="247.5" width="23.9" height="9.0" fill="#000" transform="rotate(50 966.3 252.0)"/><rect x="708.9" y="302.1" width="23.9" height="9.0" fill="#000" transform="rotate(55 720.8 306.6)"/><rect x="754.5" y="298.2" width="18.3" height="9.0" fill="#000" transform="rotate(-10 763.7 302.7)"/><rect x="709.7" y="331.3" width="18.3" height="9.0" fill="#000" transform="rotate(45 718.9 335.8)"/><rect x="685.5" y="343.0" width="23.9" height="9.0" fill="#000" transform="rotate(-20 697.5 347.5)"/><rect x="640.7" y="344.9" width="23.9" height="9.0" fill="#000" transform="rotate(40 652.6 349.4)"/><rect x="672.7" y="364.4" width="18.3" height="9.0" fill="#000" transform="rotate(40 681.9 368.9)"/><rect x="631.8" y="362.5" width="18.3" height="9.0" fill="#000" transform="rotate(0 641.0 367.0)"/><rect x="830.5" y="370.2" width="18.3" height="9.0" fill="#000" transform="rotate(0 839.7 374.7)"/></mask>
<path d="M977.2 32l1.5 6l3.5 22l2.8 11.3l2 4.7l2 2.9l8.9 9.1l2.1 3l0.9 3l1.1 11l2 6.5 M935.4 32l1.9 7l4 11l2.3 5l2.1 3l6.7 5l14.6 6.7l4 3.3l2.3 3l10 18l9.7 21.5l11 17.3 M920.8 32l4.2 22.2l3.1 12.8l3.9 8.4l9 14.6l3 3.1l3 0.4l3 -2.2l6 -8l3 -2.6l2 -0.9l2 0.1l3 1.7l4 5.3l7 11.9l12.3 25.2l10.7 20.4l4 6.4 M909.4 32l2.6 3.2l2 5.5l2.8 12.3l3.1 18l2.1 7l7.6 15l8.4 13.8l4 4.9l2 1.5l2 0.7l4 -0.5l11 -4.9l3 0l2 1.1l4 5.2l15.3 26.2l10.2 14l8.5 9.7 M880.7 32l11.3 10.1l12 7.7l3 3.5l2 4.8l5 22.1l6 18l6.1 11.8l15.9 25.1l3 2.6l3 0.6l3 -0.9l9 -4.9l3 -0.1l2 0.9l5 5.5l15 22.4l19 19.2 M867.7 32l4.3 4.4l20 16.6l5 5.2l3.7 4.8l6 13l7.7 25l4.1 11l5.7 10l15.8 24.2l4 3.9l3 1.4l4 0.2l9 -1.5l3 0.5l2 1l5 5.3l15 19.8l19 18.3 M858.5 32l6.5 8.9l19 22.8l5.1 5.3l7.9 6.4l3 3.6l5 11.6l8 26.8l4 10.4l6 9.9l15 20l4 4.2l4 2.1l4 0.5l10 -0.5l3 0.7l3 1.7l5 5l13 16.1l20 21.1 M847.5 32l5.5 5.9l14.9 21.1l12.1 15.3l6.1 6.7l9.9 9l3 4l5.4 13l8.6 31l3 8.5l8 13.8l13 17.5l5 5.6l2 1.2l2 0.3l3 -1.1l7.1 -5.8l3.6 -2l3.3 -0.2l3 1.7l4 4.1l6.4 8.4l27.6 39.9M620.7 382l-4.7 -6.9l-10 -18.2 M824 32l15 15.6l22 26l15 16.1l6.2 5.3l11.8 7.3l4 3.8l2 3.4l2.5 6.5l8.5 29.8l6.2 17.2l3.8 7.2l7 11.2l10 13.9l4 4l2 1l2 0.3l4 -1.3l8 -5l3 -1.2l3 -0.1l3 1.5l4.5 5.5l9.5 17.1l6 9.6l17 23M606 38.2l14 2.7l6 0.1l9 -3.2l9.7 -5.8M659.7 382l-3.7 -9.5l-2 -2.5l-3 -1.9l-3 -1.1l-4 -0.5l-13 0.9l-3 -0.7l-3 -2l-7 -9.2l-12 -19.9 M789.8 32l13.8 10l3.4 0.8l9 -0.2l3 1.2l4 2.8l21 19.4l29 31l18 12.9l4 3.7l3 4.4l3 7.2l13 41.2l10.9 23.6l9.7 15l5.4 6.5l3 1.8l2 0.3l4 -1.5l8 -5.9l3 -1.6l3 -0.1l2 1.2l3 3.8l5 8.2l18.9 35.3l12.1 15.9M606 58.2l15 2.7l4 -0.3l3 -1l19.5 -12.6l13.5 -10.9l6.6 -4.1M677.3 382l-2.3 -3.6l-5.1 -11.4l-3 -5l-18.9 -19.7l-3 -1.7l-3 -0.3l-3 1l-6 3.2l-3 0.9l-3 -0.6l-2 -1.7l-5 -8.6l-14 -29.7 M606 77.3l14 2l6 -0.7l8 -4.6l19 -14.9l7 -3.8l8 -2.7l14 -2.1l5 -1.2l28 -12.4l8 -2.2l3 0.3l3 1.2l12 8.5l4 1.7l4 -0.2l11 -3.6l5 -0.9l6 0.5l9 2.1l7 2.4l15 8.4l15 6.4l7 4.8l13 10.5l33 32.1l10 8.5l12 8.2l5 5.3l2 3.2l2 5l7.5 24.9l11.3 31l12.2 26.5l6 11.2l4 5.3l2 0.9l1 -0.1l2 -1.3l6.9 -8.5l5.1 -4.5l2 -0.9l2 0l3 1.9l3 4.5l6 11.7l9 19.8l13.5 27.5l6.5 14.7M719 382l-5 -5.7l-5 -4.1l-5 -1.9l-9 -0.1l-4 -1.3l-5 -3.3l-17 -13.3l-6 -7.3l-13 -23l-4 -5.1l-2 -1.3l-3 -0.7l-11 0.3l-3 -1.1l-2.4 -2.1l-7.6 -11.8l-11 -20.3 M606 112.2l14 -8.6l14 -10l13.8 -10.6l12.2 -10.8l4 -2.7l3 -1l3 -0.1l12 2.1l5 -0.4l4.4 -2.1l14.6 -9.5l7 -2.7l7 -1.7l4 0l3 0.9l4 2.3l9 6.6l3 1.4l2 0.4l4 -1.1l11 -7.3l5 -2.3l7 -0.5l8.9 1.5l4.1 1.9l3.6 3.1l11.4 14.9l4 4l4 1.1l7 -1.2l4 0.3l5 1.8l6 3.5l7.5 6.6l11.6 12l22.9 27.5l7 6.7l10.7 8.8l4.3 5.5l7 13.6l13 34.9l16 40.1l5 10.3l6 9.2l3 2.6l2 0.1l1 -0.5l9 -11l2 -1.7l2 -0.8l2 0.1l2 1l2.7 3.6l16.3 47.6l5.2 24.4l0.8 9.3l0 18.7l-1.1 18l-1.2 10M736.8 382l-12.4 -15l-7.4 -5.7l-17 -10.2l-4 -1.1l-10 -0.4l-3 -1.3l-3 -2.7l-4.2 -5.6l-7.8 -13l-17 -35.4l-3 -5.4l-2 -2.4l-2 -1l-3 0.2l-7 4.6l-3 1.3l-3 -0.2l-2 -1.5l-4 -7.6l-16 -42.4 M719 68.9l4 -0.5l4 0.9l13 8.8l5 1.8l5 -1.3l14 -9.4l4 -0.8l5 0.8l7 2.7l5 3.4l14 16l5 3.9l4 0.7l7.4 -1.9l3.6 -0.2l5 1.2l6 3l6 5.4l12 14.3l22.3 33.3l19.7 24.3l8 10.8l4 6.1l3 5.7l10.5 27.1l2.6 11l4.4 25l8 29l4.7 25l1 12l-0.8 13l-1.8 6l-3.6 8l-2.4 4l-2.6 2.7l-6 2.4l-19 3.1l-11.1 2.8l-6.7 3l-11.2 7.4l-3 1.2l-3 0.5l-4 -0.6l-12 -3.7l-18 -2.1l-8 -0.4l-14 1l-5 -0.4l-8 -2.5l-22 -9.3l-6 -1.6l-5.6 0.5l-12.4 4l-3 0.1l-2 -0.6l-2.3 -1.5l-2.7 -3l-10 -15.1l-4 -5.1l-16 -16.3l-4 -2.7l-3 -1.1l-11 -0.7l-4 -0.8l-3 -1.7l-3 -3.1l-7 -9.8l-8.4 -13.6l-16.6 -35.1l-4 -6.4l-2 -1.6l-3 -0.8l-8 1.2l-3 -0.1l-2 -0.8l-1.4 -1.4l-2.6 -6l-7.8 -31l-1.7 -9l-0.5 -7l0 -19l0.5 -7l5.4 -20l4.1 -10l11.7 -20l4.8 -7l7.5 -8l15 -14.3l3 -1.8l3 -0.8l13 1.2l5 -0.7l6 -2.8l15 -9.5l11 -4.4 M721 84.7l3 -0.5l3.3 0.8l12.7 9.1l3 1.6l3 0.7l5 -0.8l10 -4l5 -1.4l7 -0.2l7 1.3l4 2l3 3.1l13 20.5l3 3.7l2 1.5l2 0.5l2 -0.2l9 -4.6l5 -1.2l5 1.3l7 4.5l3.7 3.6l2.5 4l10 25l8.2 27l9.6 38.8l11 33.6l3 7l2 1.8l2 -0.2l1 -0.8l2.6 -4.2l1.8 -5l0.1 -4l-2.4 -8l-0.8 -5l0.3 -5l1.6 -5l1.8 -2.3l1 -0.5l2 0l3 2.3l2 3l2 4.8l0.7 4.7l-0.1 10l1.8 39l-0.2 11l-0.8 5l-1.4 2.3l-3 1.2l-3.2 -0.5l-5.8 -3.1l-2 -0.2l-1 0.5l-2 3l-4.2 9.8l-10.2 18l-3.6 5.1l-4 3.3l-7 2.4l-13 2.3l-24 1.4l-4 1.1l-7 3.2l-3 0.5l-3 -0.5l-3 -1.4l-18 -12.1l-7 -3.2l-6 -2l-4 -0.4l-3 0.6l-12 6.4l-3 0.6l-2 -0.2l-4 -2.9l-12.2 -15.2l-16.8 -18.6l-5 -4.5l-3 -1.7l-3 -0.5l-11 0.8l-3 -0.8l-2 -1.3l-6 -7.3l-10 -15.3l-4.2 -9.8l-6.8 -26l-1.7 -12l-2.7 -30l-1.4 -29l6.8 -41l2.7 -6l5.3 -4.6l25 -12.9l24 -15.3l5 -2.5 M721 110.7l4 -0.5l3 0.9l12 8.4l5 1.7l2 -0.3l3 -1.2l9 -6.6l4 -2.2l3 -0.5l4 1l6 3.7l8 6.7l14 17.2l5 4.9l2 1.2l3 0.5l10 -1.1l7 2.5l7 4.4l5 4.1l3 3.8l3 5.9l7.3 18.8l2.1 10l2.1 14l0.4 34l-3.4 31l-1.5 4.9l-2.3 4.1l-11.5 14l-16.2 13.3l-9 5.7l-4 1.1l-4 -0.3l-16 -6.8l-5 -1.2l-7 -0.9l-12 -0.3l-5 0.8l-9 2.5l-3 0.1l-2 -0.7l-2 -1.4l-3 -3.6l-12.1 -18.3l-14 -14l-8.9 -12.6l-2 -1.3l-3 -0.8l-9 0.6l-3 -0.5l-3 -2.1l-2.5 -4.3l-5.7 -16l-2 -11l-1.7 -28l-0.1 -32l0.8 -8l2.2 -5.3l5 -8.9l3.7 -5.8l3.3 -3.9l7.1 -5.1l21.9 -13.8l5 -2.5 M725 139.7l4 0.6l11 5.9l5 1.3l5 -0.6l11 -4l5 -1.1l6 0.5l6 1.9l4.2 2.8l3.4 5l15.4 37.9l2.3 4.1l1.7 1.1l3 -0.4l8.2 -5.7l3.8 -1.6l3 0.1l2.2 1.5l1.8 2.8l1 2.8l1.9 10.4l0.4 9l-0.3 12l-0.8 6l-2.3 7l-2.9 5.8l-3 3.4l-4 3l-6 2.6l-17.8 5.2l-10.2 2.2l-20 3.4l-9 1l-6 -0.9l-4 -2.9l-4 -5.5l-7 -11.7l-10 -18.6l-7.3 -16l-3.1 -10l-0.2 -5l0.6 -8l4.6 -34l1.4 -5.1l2 -4.5l1.8 -2.4l2.2 -1.3" fill="none" stroke="#111" stroke-opacity="0.8" stroke-width="0.65" mask="url(#mb)"/>
<text x="640.961" y="68.9086" transform="rotate(-30 640.961 68.9086)" class="cl">0.6</text>
<text x="652.649" y="76.7007" transform="rotate(-30 652.649 76.7007)" class="cl">0.65</text>
<text x="816.283" y="61.1165" transform="rotate(-30 816.283 61.1165)" class="cl">0.6</text>
<text x="855.243" y="78.6487" transform="rotate(60 855.243 78.6487)" class="cl">0.55</text>
<text x="831.867" y="98.129" transform="rotate(15 831.867 98.129)" class="cl">0.7</text>
<text x="876.672" y="103.973" transform="rotate(60 876.672 103.973)" class="cl">0.5</text>
<text x="890.308" y="97.3497" transform="rotate(-10 890.308 97.3497)" class="cl">0.45</text>
<text x="890.308" y="82.5447" transform="rotate(-30 890.308 82.5447)" class="cl">0.4</text>
<text x="907.84" y="65.0125" transform="rotate(45 907.84 65.0125)" class="cl">0.35</text>
<text x="921.476" y="82.5447" transform="rotate(60 921.476 82.5447)" class="cl">0.3</text>
<text x="944.853" y="59.1684" transform="rotate(30 944.853 59.1684)" class="cl">0.15</text>
<text x="981.865" y="57.2204" transform="rotate(80 981.865 57.2204)" class="cl">0.1</text>
<text x="970.177" y="72.8046" transform="rotate(80 970.177 72.8046)" class="cl">0.15</text>
<text x="716.934" y="166.31" transform="rotate(-80 716.934 166.31)" class="cl">0.85</text>
<text x="859.14" y="187.738" transform="rotate(80 859.14 187.738)" class="cl">0.75</text>
<text x="855.243" y="250.075" transform="rotate(90 855.243 250.075)" class="cl">0.8</text>
<text x="966.281" y="252.023" transform="rotate(50 966.281 252.023)" class="cl">0.65</text>
<text x="720.83" y="306.568" transform="rotate(55 720.83 306.568)" class="cl">0.75</text>
<text x="763.686" y="302.672" transform="rotate(-10 763.686 302.672)" class="cl">0.8</text>
<text x="718.882" y="335.788" transform="rotate(45 718.882 335.788)" class="cl">0.7</text>
<text x="697.453" y="347.476" transform="rotate(-20 697.453 347.476)" class="cl">0.65</text>
<text x="652.649" y="349.424" transform="rotate(40 652.649 349.424)" class="cl">0.55</text>
<text x="681.869" y="368.905" transform="rotate(40 681.869 368.905)" class="cl">0.6</text>
<text x="640.961" y="366.957" transform="rotate(0 640.961 366.957)" class="cl">0.5</text>
<text x="839.659" y="374.749" transform="rotate(0 839.659 374.749)" class="cl">0.7</text>
</g>
<rect x="606" y="32" width="398" height="350" fill="none" stroke="#262626" stroke-width="0.8"/>
<text x="625.9" y="402.5" class="tk" text-anchor="middle">140</text>
<text x="665.7" y="402.5" class="tk" text-anchor="middle">150</text>
<text x="705.5" y="402.5" class="tk" text-anchor="middle">160</text>
<text x="745.3" y="402.5" class="tk" text-anchor="middle">170</text>
<text x="785.1" y="402.5" class="tk" text-anchor="middle">180</text>
<text x="824.9" y="402.5" class="tk" text-anchor="middle">190</text>
<text x="864.7" y="402.5" class="tk" text-anchor="middle">200</text>
<text x="904.5" y="402.5" class="tk" text-anchor="middle">210</text>
<text x="944.3" y="402.5" class="tk" text-anchor="middle">220</text>
<text x="984.1" y="402.5" class="tk" text-anchor="middle">230</text>
<text x="599.5" y="386.8" class="tk" text-anchor="end">700</text>
<text x="599.5" y="343.1" class="tk" text-anchor="end">750</text>
<text x="599.5" y="299.3" class="tk" text-anchor="end">800</text>
<text x="599.5" y="255.6" class="tk" text-anchor="end">850</text>
<text x="599.5" y="211.8" class="tk" text-anchor="end">900</text>
<text x="599.5" y="168.1" class="tk" text-anchor="end">950</text>
<text x="599.5" y="124.3" class="tk" text-anchor="end">1000</text>
<text x="599.5" y="80.5" class="tk" text-anchor="end">1050</text>
<text x="599.5" y="36.8" class="tk" text-anchor="end">1100</text>
<path d="M625.9 382.0v-3.5M625.9 32.0v3.5M665.7 382.0v-3.5M665.7 32.0v3.5M705.5 382.0v-3.5M705.5 32.0v3.5M745.3 382.0v-3.5M745.3 32.0v3.5M785.1 382.0v-3.5M785.1 32.0v3.5M824.9 382.0v-3.5M824.9 32.0v3.5M864.7 382.0v-3.5M864.7 32.0v3.5M904.5 382.0v-3.5M904.5 32.0v3.5M944.3 382.0v-3.5M944.3 32.0v3.5M984.1 382.0v-3.5M984.1 32.0v3.5M606.0 382.0h3.5M1004.0 382.0h-3.5M606.0 338.2h3.5M1004.0 338.2h-3.5M606.0 294.5h3.5M1004.0 294.5h-3.5M606.0 250.8h3.5M1004.0 250.8h-3.5M606.0 207.0h3.5M1004.0 207.0h-3.5M606.0 163.2h3.5M1004.0 163.2h-3.5M606.0 119.5h3.5M1004.0 119.5h-3.5M606.0 75.8h3.5M1004.0 75.8h-3.5M606.0 32.0h3.5M1004.0 32.0h-3.5" stroke="#262626" stroke-width="0.7" fill="none"/>
<linearGradient id="gb" x1="0" y1="0" x2="0" y2="1"><stop offset="0.0000" stop-color="#800000"/><stop offset="0.0312" stop-color="#9f0000"/><stop offset="0.0625" stop-color="#bf0000"/><stop offset="0.0938" stop-color="#df0000"/><stop offset="0.1250" stop-color="#ff0000"/><stop offset="0.1562" stop-color="#ff2000"/><stop offset="0.1875" stop-color="#ff4000"/><stop offset="0.2188" stop-color="#ff6000"/><stop offset="0.2500" stop-color="#ff8000"/><stop offset="0.2812" stop-color="#ff9f00"/><stop offset="0.3125" stop-color="#ffbf00"/><stop offset="0.3438" stop-color="#ffdf00"/><stop offset="0.3750" stop-color="#ffff00"/><stop offset="0.4062" stop-color="#dfff20"/><stop offset="0.4375" stop-color="#bfff40"/><stop offset="0.4688" stop-color="#9fff60"/><stop offset="0.5000" stop-color="#80ff80"/><stop offset="0.5312" stop-color="#60ff9f"/><stop offset="0.5625" stop-color="#40ffbf"/><stop offset="0.5938" stop-color="#20ffdf"/><stop offset="0.6250" stop-color="#00ffff"/><stop offset="0.6562" stop-color="#00dfff"/><stop offset="0.6875" stop-color="#00bfff"/><stop offset="0.7188" stop-color="#009fff"/><stop offset="0.7500" stop-color="#0080ff"/><stop offset="0.7812" stop-color="#0060ff"/><stop offset="0.8125" stop-color="#0040ff"/><stop offset="0.8438" stop-color="#0020ff"/><stop offset="0.8750" stop-color="#0000ff"/><stop offset="0.9062" stop-color="#0000df"/><stop offset="0.9375" stop-color="#0000bf"/><stop offset="0.9688" stop-color="#00009f"/><stop offset="1.0000" stop-color="#000080"/></linearGradient>
<rect x="1015" y="32" width="22" height="350" fill="url(#gb)" stroke="#262626" stroke-width="0.6"/>
<text x="1042.5" y="374.8" class="tk">0.1</text>
<text x="1042.5" y="330.0" class="tk">0.2</text>
<text x="1042.5" y="285.1" class="tk">0.3</text>
<text x="1042.5" y="240.2" class="tk">0.4</text>
<text x="1042.5" y="195.3" class="tk">0.5</text>
<text x="1042.5" y="150.5" class="tk">0.6</text>
<text x="1042.5" y="105.6" class="tk">0.7</text>
<text x="1042.5" y="60.7" class="tk">0.8</text>
<path d="M1037.0 370.3h-2.5M1037.0 325.5h-2.5M1037.0 280.6h-2.5M1037.0 235.7h-2.5M1037.0 190.8h-2.5M1037.0 146.0h-2.5M1037.0 101.1h-2.5M1037.0 56.2h-2.5" stroke="#262626" stroke-width="0.6"/>
<text x="804.0" y="421.2" class="al" text-anchor="middle">Titanium Oxide</text>
<text x="561.5" y="207.0" class="al" text-anchor="middle" transform="rotate(-90 561.5 207.0)">Groove depth</text>
<text x="825.7" y="449.2" class="cap" text-anchor="middle" textLength="110.7" lengthAdjust="spacing">(b) <tspan font-style="italic">f</tspan>=0.35</text>
<clipPath id="clipc"><rect x="66" y="494.4" width="387.3" height="349.7"/></clipPath>
<g clip-path="url(#clipc)">
<rect x="66" y="494.4" width="387.3" height="349.7" fill="#000080"/>
<path d="M67 494.4l377 0l6.2 8l2.8 4.5l0 337.5l-387 0l0 -350l1 0z" fill="#000099" fill-rule="evenodd"/>
<path d="M67 494.4l333 0l2 6.1l4 7l4 5.3l5 4.4l3 1.6l3 0.5l2.7 -0.9l5.3 -3.5l2 0.1l1 0.7l3 5.8l8.2 22.9l7.7 16l2.1 9.6l0 274.4l-387 0l0 -350l1 0z" fill="#0000e0" fill-rule="evenodd"/>
<path d="M67 494.4l321.4 0l1.6 10.4l5.3 21.6l6.7 18.4l5.1 10.6l3.9 4.7l3 0.8l3 -1.3l7 -6.1l3 -1.9l3 -0.5l2 1l3 3.8l3.5 6.5l7.5 21.3l7 15.4l0 245.3l-387 0l0 -350l1 0z" fill="#0027ff" fill-rule="evenodd"/>
<path d="M67 494.4l314.9 0l5.1 36.3l5.6 21.7l3.7 9l3.7 5.4l5 5.8l4 3.7l3 1.6l2 0.3l3 -0.7l11 -6.8l2 0l2 1.3l2 3.1l11.5 26.3l7.5 14.6l0 228.4l-387 0l0 -350l1 0z" fill="#006eff" fill-rule="evenodd"/>
<path d="M67 494.4l278.3 0l1.7 8.7l3 10.9l2 3.5l2 1l2 -0.4l2.3 -1.7l4.1 -6l0.7 -4l-1.2 -8l1.2 -4l9.3 0l1.4 2l0.5 2l1.2 8l9.6 48l3.3 9l4.6 9.1l12 17.3l4 4.8l3 2.4l2 0.8l3 0l11 -3.8l3 0.7l2 1.6l4 6.1l7.1 15l8.9 15.2l0 211.8l-387 0l0 -350l1 0z" fill="#00b4ff" fill-rule="evenodd"/>
<path d="M67 494.4l262.4 0l5.4 13l5.2 17.5l2.7 5.5l4.3 4.9l5 3.9l5 2.3l9 2.4l3 1.7l2 1.9l6 10.6l15 32.7l11.4 16.6l5.6 6.1l4 2.1l4 -0.4l10 -4.3l3 0.2l2 1.3l5 7.7l16 30.8l0 193.5l-387 0l0 -350l1 0z" fill="#00fbff" fill-rule="evenodd"/>
<path d="M67 494.4l248 0l7 9l3.5 6l6.9 24l18.6 39.1l2 1.9l2 0.5l3 -1.2l8 -5.4l3 -0.2l2 1.1l3 3.9l3 5.8l6.1 16.5l6.9 14.1l5 8.4l8 10.4l7 7.1l4 1.7l4 -1l9 -5.2l3 -0.2l2 1.2l4 5.3l11 20l6 8.7l0 178.5l-369.8 0l-17.2 -19.1l0 -330.9l1 0z" fill="#43ffbc" fill-rule="evenodd"/>
<path d="M67 494.4l234.2 0l12.8 12.4l4.1 5.6l12.6 38l13.8 31l5.5 9.4l2 1.8l3 0.6l3 -1.2l9 -5.6l2 0l2 1.3l3 4.8l11.6 24.9l6.4 12.3l9 13.9l7 9.2l4 3.4l3 0.7l3 -0.7l9 -4.2l3 -0.3l2 0.7l4 4l7.3 11l9.7 12.6l0 164.4l-348.2 0l-3.6 -3l-35.2 -40.4l0 -306.6l1 0z" fill="#89ff76" fill-rule="evenodd"/>
<path d="M67 494.4l219.4 0l10.6 8.7l9 8.7l5 8.3l8 18.5l11.2 30.8l9.9 25l4.9 10.5l5 8.9l2 2.1l3 0.7l3 -1.4l9 -6.9l3 -0.1l2 1.5l5 8.4l16.8 34.3l7.2 11.9l7 10.3l4 3.9l3 0.8l4 -1.7l8 -6.2l3 -0.7l2 0.8l3 3.5l3 5.2l15 31.3l0 132.9l-310.6 0l-17.4 -11.4l-25 -20.2l-16 -16l-18 -21.6l0 -280.8l1 0z" fill="#d0ff2f" fill-rule="evenodd"/>
<path d="M97 495.1l1 -0.7l162.4 0l33.6 28.6l14 16.6l7 10.5l16 46.3l11 24.3l7 11.9l3 3.3l2 1l2 0.3l3 -0.8l8.2 -5l2.8 -0.1l2 1.3l3 4.9l9.5 21.9l7.2 15l3.7 6l7.6 10.4l6 6.6l4 2.6l4 0.9l10 0.3l3 0.9l2 1.2l4 4.8l17 27l0 109.3l-287.7 0l-35.3 -35.4l-30 -24.3l-14 -12.5l-6 -7.1l-14 -21.6l0 -232.7l14 -3.7l4.4 -1.7l4.4 -3l8.2 -7.3z" fill="#ffe700" fill-rule="evenodd"/>
<path d="M158 495.4l2.4 -1l38.1 0l17.5 8.8l6 2.3l5 1.1l5 -0.6l12 -4.2l4 -0.1l3 0.8l5 2.9l6 5.1l37 41l4 5.9l13.2 23l4.2 9l13.6 33.2l10 18.5l6 8.8l11 13l4.9 4.5l7.1 4.6l2.1 2.4l5.9 13.3l27 48.5l3 3l3 1.4l12 0.5l3 0.8l3 2.2l2.1 3.3l5.9 15.9l6.8 21.1l2.2 8l0.6 6l-0.8 14l-1.6 9l-3.9 9l-7.8 14l-222 0l-5.5 -2.5l-8 -7.6l-4 -2.9l-25 -12.7l-7 -4.5l-8 -8.3l-19 -23.7l-11.5 -12.8l-8.5 -6.7l-20.3 -13.3l-8.5 -7l-4.2 -4.4l-6.6 -10.6l-11.4 -21.8l0 -160.4l5.1 -5.8l12.4 -11l18.5 -15.6l7.9 -5.4l7.1 -3.1l7 -2.3l21 -2l13 -4.6z" fill="#ffa100" fill-rule="evenodd"/>
<path d="M183 503.3l4 0.2l5.6 1.9l26.4 14l6 2.6l3 0.6l3.7 -0.2l10.3 -3.1l4 -0.6l4 1.2l4 3.3l21.6 23.2l15.4 24.1l4 3.3l10.9 6.6l5.1 6.3l5 9.9l5.6 13.8l6 17l8.3 18l11.1 28.7l3 6.1l2 2.2l2 0.8l8 -1.7l3 0.1l2 0.8l2.5 3l11.5 24.7l3.3 10.3l3.5 17l4.8 31l1 9l0.4 10l-0.3 6l-0.8 4l-1.8 5l-2.6 5l-7.3 8l-7 6l-4.2 2.9l-7 2.9l-23 6.9l-7 1.9l-6 0.8l-33 0.2l-23 -0.9l-6 -0.8l-8 -2.1l-8 -3.5l-12.7 -9.3l-5 -3l-28.3 -9.2l-45 -21.8l-5 -4l-5 -6l-9 -12.1l-8 -13.3l-3 -3.7l-2 -1.4l-3 -1.1l-11 -1.6l-4 -1.1l-3 -1.9l-2.9 -3.8l-2.5 -6l-13.6 -39l-13.5 -26l-2.4 -7l-1.6 -7l-0.4 -11l1.3 -29l2.6 -17l4.5 -16l3.9 -9l8.4 -15l13.2 -20.3l5 -5.7l7.6 -4l26.2 -10l37.2 -10.2l5 -0.9z" fill="#ff5a00" fill-rule="evenodd"/>
<path d="M182 524.4l4 -0.4l5 1.1l20 8.8l13 4.8l6 1.1l15 0.4l3 0.9l4 2.3l9 7.8l10 12.3l5 6.9l12 19.7l4.4 6.3l4.6 4l12 7.5l3 2.9l2 2.9l4 11.6l10.5 41.1l8.7 46l4.6 35l0.4 19l-1.1 8l-1.9 4l-3.2 4l-7 5.2l-13 6.5l-8 3l-35 5.5l-6 -0.2l-8 -1.4l-20 -4.5l-8 -2.6l-9.1 -4.5l-45.9 -25.9l-14 -9.5l-6 -5.3l-6 -7.7l-9.5 -13.6l-7.5 -13.6l-3.1 -4.4l-4.9 -3.3l-13 -4.4l-3 -2.3l-2.1 -3l-13.9 -34.5l-2.7 -8.5l-1 -6l-0.1 -27l0.8 -18l2.8 -16l2.9 -9l7.5 -14l2.8 -3.8l2 -1.7l4 -1.9l14 -4.9l18 -11.7l7 -3.6l20 -7.9l11 -3.5z" fill="#ff1300" fill-rule="evenodd"/>
<path d="M181 548.3l6 -0.1l6 1.8l12 5.6l16 8.6l5 1.9l6 -0.1l13 -3.6l3 0.2l4 1.5l9 7l10 10.8l9 13l7.2 14.5l2.8 7l1.1 6l0.5 8l-0.4 16l0.8 6l1.5 3l2.1 2l8.4 4.4l3 2.2l1.7 2.4l1.3 3.5l1.1 7.5l1.6 20l0.1 23l-0.7 5l-1.6 4l-3.5 4.9l-5 5.5l-8 6.5l-18 10.7l-7 2.3l-11 2.3l-7 0.8l-5 -0.3l-25 -5.1l-10 -3.6l-11.8 -5l-23.2 -12.2l-4.4 -2.8l-3.6 -3.1l-5 -5.7l-4 -5.8l-12.4 -23.4l-7.1 -19l-3.6 -13l-3.7 -47l0.1 -6l0.7 -4l9.6 -31l2.1 -5l2.4 -4l6.7 -6l10.7 -7l7.5 -3l9 -2.1z" fill="#cc0000" fill-rule="evenodd"/>
<path d="M176 587.4l15 0.3l8 1.1l6 2.6l16 10.1l6 3l6 1.2l14 -0.4l3.2 1.1l2.1 2l1.7 3.8l5.8 20.2l3.2 26.7l0.4 8.3l-1 14l-2 9l-3.6 8l-1.8 2.3l-3.4 2.7l-7.6 3.8l-7.5 2.2l-20.5 2.8l-8 -0.4l-7.2 -3.4l-11.8 -8.3l-14 -12.5l-6 -7.6l-6.2 -10.6l-2.5 -8l-1.9 -49l0.6 -3.8l1.5 -4.2l5.9 -12l3.6 -3.5l6 -1.5z" fill="#850000" fill-rule="evenodd"/>
<mask id="mc" maskUnits="userSpaceOnUse" x="66" y="494.4" width="387.3" height="349.7"><rect x="66" y="494.4" width="387.3" height="349.7" fill="#fff"/><rect x="83.0" y="517.5" width="23.9" height="9.0" fill="#000" transform="rotate(-40 95.0 522.0)"/><rect x="275.6" y="535.0" width="23.9" height="9.0" fill="#000" transform="rotate(30 287.5 539.5)"/><rect x="300.9" y="528.5" width="18.3" height="9.0" fill="#000" transform="rotate(60 310.0 533.0)"/><rect x="310.1" y="535.5" width="23.9" height="9.0" fill="#000" transform="rotate(60 322.0 540.0)"/><rect x="324.9" y="551.5" width="18.3" height="9.0" fill="#000" transform="rotate(60 334.0 556.0)"/><rect x="336.1" y="553.5" width="23.9" height="9.0" fill="#000" transform="rotate(50 348.0 558.0)"/><rect x="300.9" y="567.5" width="18.3" height="9.0" fill="#000" transform="rotate(70 310.0 572.0)"/><rect x="356.1" y="501.5" width="23.9" height="9.0" fill="#000" transform="rotate(-5 368.0 506.0)"/><rect x="349.9" y="532.5" width="18.3" height="9.0" fill="#000" transform="rotate(0 359.0 537.0)"/><rect x="404.9" y="515.5" width="18.3" height="9.0" fill="#000" transform="rotate(10 414.0 520.0)"/><rect x="390.1" y="531.5" width="23.9" height="9.0" fill="#000" transform="rotate(70 402.0 536.0)"/><rect x="378.9" y="531.5" width="18.3" height="9.0" fill="#000" transform="rotate(80 388.0 536.0)"/><rect x="143.1" y="630.0" width="23.9" height="9.0" fill="#000" transform="rotate(90 155.0 634.5)"/><rect x="315.6" y="672.5" width="23.9" height="9.0" fill="#000" transform="rotate(80 327.5 677.0)"/><rect x="175.8" y="732.5" width="18.3" height="9.0" fill="#000" transform="rotate(10 185.0 737.0)"/><rect x="280.9" y="734.5" width="18.3" height="9.0" fill="#000" transform="rotate(-50 290.0 739.0)"/><rect x="135.6" y="742.5" width="23.9" height="9.0" fill="#000" transform="rotate(55 147.5 747.0)"/><rect x="130.8" y="767.5" width="18.3" height="9.0" fill="#000" transform="rotate(55 140.0 772.0)"/><rect x="150.6" y="810.0" width="23.9" height="9.0" fill="#000" transform="rotate(30 162.5 814.5)"/><rect x="123.3" y="810.0" width="18.3" height="9.0" fill="#000" transform="rotate(50 132.5 814.5)"/><rect x="103.0" y="817.5" width="23.9" height="9.0" fill="#000" transform="rotate(30 115.0 822.0)"/><rect x="78.3" y="825.0" width="18.3" height="9.0" fill="#000" transform="rotate(45 87.5 829.5)"/></mask>
<path d="M444 494.4l6.2 8l2.8 4.5 M400 494.4l2 6.1l4 7l4 5.3l5 4.4l3 1.6l3 0.5l2.7 -0.9l4.3 -3.1l2 -0.5l1.5 0.6l1.5 1.6l9.8 26.4l8.1 17l2.1 9.6 M388.4 494.4l1.6 10.4l5.3 21.6l6.7 18.4l5.1 10.6l3.9 4.7l3 0.8l3 -1.3l7 -6.1l3 -1.9l3 -0.5l2 1l3 3.8l3.5 6.5l7.5 21.3l7 15.4 M381.9 494.4l5.1 36.3l5.6 21.7l3.7 9l3.7 5.4l5 5.8l4 3.7l3 1.6l2 0.3l3 -0.7l11 -6.8l2 0l2 1.3l2 3.1l11.5 26.3l7.5 14.6 M345.3 494.4l1.7 8.7l3 10.9l2 3.5l2 1l2 -0.4l2.3 -1.7l4.1 -6l0.7 -4l-1.2 -8l1.2 -4M372.4 494.4l1.4 2l0.5 2l1.2 8l9.6 48l3.3 9l4.6 9.1l12 17.3l4 4.8l3 2.4l2 0.8l3 0l11 -3.8l3 0.7l2 1.6l4 6.1l7.1 15l8.9 15.2 M329.4 494.4l5.4 13l5.2 17.5l2.7 5.5l4.3 4.9l5 3.9l5 2.3l9 2.4l3 1.7l2 1.9l6 10.6l15 32.7l11.4 16.6l5.6 6.1l4 2.1l4 -0.4l10 -4.3l3 0.2l2 1.3l5 7.7l16 30.8 M315 494.4l7 9l3.5 6l6.9 24l18.6 39.1l2 1.9l2 0.5l3 -1.2l8 -5.4l3 -0.2l2 1.1l3 3.9l3 5.8l6.1 16.5l6.9 14.1l5 8.4l8 10.4l7 7.1l4 1.7l4 -1l9 -5.2l3 -0.2l2 1.2l4 5.3l11 20l6 8.7M83.2 844.4l-17.2 -19.1 M301.2 494.4l12.8 12.4l4.1 5.6l12.6 38l13.8 31l5.5 9.4l2 1.8l3 0.6l3 -1.2l9 -5.6l2 0l2 1.3l3 4.8l11.6 24.9l6.4 12.3l9 13.9l7 9.2l4 3.4l3 0.7l3 -0.7l9 -4.2l3 -0.3l2 0.7l4 4l7.3 11l9.7 12.6M104.8 844.4l-7.8 -7.3l-31 -36.1 M286.4 494.4l5.6 4.3l11.8 10.7l3.2 3.7l2.6 4.3l9.4 21.2l11.2 30.8l9.9 25l4.9 10.5l5 8.9l2 2.1l3 0.7l3 -1.4l9 -6.9l3 -0.1l2 1.5l5 8.4l16.8 34.3l7.2 11.9l7 10.3l4 3.9l3 0.8l4 -1.7l8 -6.2l3 -0.7l2 0.8l3 3.5l3 5.2l15 31.3M142.4 844.4l-17.4 -11.4l-25 -20.2l-16 -16l-18 -21.6 M260.4 494.4l34 29l10.6 12.4l8 10.8l4 8.4l6.6 20.4l7.8 22l11.5 25l7.1 11.5l3 2.6l3 0.7l3 -0.8l8.2 -5l2.8 -0.1l2 1.3l3 4.9l9.5 21.9l7.2 15l3.7 6l7.6 10.4l6 6.6l4 2.6l4 0.9l10 0.3l3 0.9l2 1.2l4 4.8l17 27M66 510.8l14 -3.7l4.4 -1.7l3.6 -2.4l10 -8.6M165.3 844.4l-35.3 -35.4l-30 -24.3l-15 -13.5l-5.5 -6.8l-13.5 -20.9 M198.5 494.4l15.5 8l7 2.8l5 1.3l5 -0.3l13 -4.4l5 0.1l3 1.1l4 2.4l7 6.2l23 25.9l11.2 11.9l4.6 6l14.9 26l17.3 41.2l10 18.5l6 8.8l11 13l4.9 4.5l7.1 4.6l2.1 2.4l5.9 13.3l27 48.5l2 2.2l3 1.9l4 0.8l11 0.4l3 1.6l2 2.3l3.2 7l8.8 26.1l3.7 12.9l0.9 7l-0.8 14l-1.6 9l-3.9 9l-7.8 14M66 545.2l5.1 -5.8l12.4 -11l18.5 -15.6l7.9 -5.4l7.1 -3.1l7 -2.3l21 -2l5.6 -1.6l9.8 -4M213.5 844.4l-5.5 -2.5l-8 -7.6l-4 -2.9l-26 -13.3l-8 -5.7l-10 -11.2l-17 -21.3l-9.5 -10.5l-8.5 -6.7l-20 -13.1l-11.8 -10.2l-6.1 -9l-9.9 -18l-3.2 -6.8 M183 503.3l4 0.2l5.6 1.9l26.4 14l6 2.6l3 0.6l3.7 -0.2l10.3 -3.1l4 -0.6l4 1.2l4 3.3l21.6 23.2l15.4 24.1l4 3.3l10.9 6.6l5.1 6.3l5 9.9l5.6 13.8l6 17l8.3 18l11.1 28.7l3 6.1l2 2.2l2 0.8l8 -1.7l3 0.1l2 0.8l2.5 3l11.5 24.7l3.3 10.3l3.5 17l4.8 31l1 9l0.4 10l-0.3 6l-0.8 4l-1.8 5l-2.6 5l-7.3 8l-7 6l-4.2 2.9l-7 2.9l-23 6.9l-7 1.9l-6 0.8l-33 0.2l-23 -0.9l-6 -0.8l-8 -2.1l-8 -3.5l-12.7 -9.3l-5 -3l-28.3 -9.2l-45 -21.8l-5 -4l-5 -6l-9 -12.1l-8 -13.3l-3 -3.7l-2 -1.4l-3 -1.1l-11 -1.6l-4 -1.1l-3 -1.9l-2.9 -3.8l-2.5 -6l-13.6 -39l-13.5 -26l-2.4 -7l-1.6 -7l-0.4 -11l1.3 -29l2.6 -17l4.5 -16l3.9 -9l8.4 -15l13.2 -20.3l5 -5.7l7.6 -4l26.2 -10l37.2 -10.2l5 -0.9 M182 524.4l4 -0.4l5 1.1l20 8.8l13 4.8l6 1.1l15 0.4l3 0.9l4 2.3l9 7.8l10 12.3l5 6.9l12 19.7l4.4 6.3l4.6 4l12 7.5l3 2.9l2 2.9l4 11.6l10.5 41.1l8.7 46l4.6 35l0.4 19l-1.1 8l-1.9 4l-3.2 4l-7 5.2l-13 6.5l-8 3l-35 5.5l-6 -0.2l-8 -1.4l-20 -4.5l-8 -2.6l-9.1 -4.5l-45.9 -25.9l-14 -9.5l-6 -5.3l-6 -7.7l-9.5 -13.6l-7.5 -13.6l-3.1 -4.4l-4.9 -3.3l-13 -4.4l-3 -2.3l-2.1 -3l-13.9 -34.5l-2.7 -8.5l-1 -6l-0.1 -27l0.8 -18l2.8 -16l2.9 -9l7.5 -14l2.8 -3.8l2 -1.7l4 -1.9l14 -4.9l18 -11.7l7 -3.6l20 -7.9l11 -3.5 M181 548.3l6 -0.1l6 1.8l12 5.6l16 8.6l5 1.9l6 -0.1l13 -3.6l3 0.2l4 1.5l9 7l10 10.8l9 13l7.2 14.5l2.8 7l1.1 6l0.5 8l-0.4 16l0.8 6l1.5 3l2.1 2l8.4 4.4l3 2.2l1.7 2.4l1.3 3.5l1.1 7.5l1.6 20l0.1 23l-0.7 5l-1.6 4l-3.5 4.9l-5 5.5l-8 6.5l-18 10.7l-7 2.3l-11 2.3l-7 0.8l-5 -0.3l-25 -5.1l-10 -3.6l-11.8 -5l-23.2 -12.2l-4.4 -2.8l-3.6 -3.1l-5 -5.7l-4 -5.8l-12.4 -23.4l-7.1 -19l-3.6 -13l-3.7 -47l0.1 -6l0.7 -4l9.6 -31l2.1 -5l2.4 -4l6.7 -6l10.7 -7l7.5 -3l9 -2.1 M176 587.4l15 0.3l8 1.1l6 2.6l16 10.1l6 3l6 1.2l14 -0.4l3.2 1.1l2.1 2l1.7 3.8l5.8 20.2l3.2 26.7l0.4 8.3l-1 14l-2 9l-3.6 8l-1.8 2.3l-3.4 2.7l-7.6 3.8l-7.5 2.2l-20.5 2.8l-8 -0.4l-7.2 -3.4l-11.8 -8.3l-14 -12.5l-6 -7.6l-6.2 -10.6l-2.5 -8l-1.9 -49l0.6 -3.8l1.5 -4.2l5.9 -12l3.6 -3.5l6 -1.5" fill="none" stroke="#111" stroke-opacity="0.8" stroke-width="0.65" mask="url(#mc)"/>
<text x="95" y="522" transform="rotate(-40 95 522)" class="cl">0.65</text>
<text x="287.5" y="539.5" transform="rotate(30 287.5 539.5)" class="cl">0.65</text>
<text x="310" y="533" transform="rotate(60 310 533)" class="cl">0.6</text>
<text x="322" y="540" transform="rotate(60 322 540)" class="cl">0.55</text>
<text x="334" y="556" transform="rotate(60 334 556)" class="cl">0.5</text>
<text x="348" y="558" transform="rotate(50 348 558)" class="cl">0.45</text>
<text x="310" y="572" transform="rotate(70 310 572)" class="cl">0.7</text>
<text x="368" y="506" transform="rotate(-5 368 506)" class="cl">0.35</text>
<text x="359" y="537" transform="rotate(0 359 537)" class="cl">0.4</text>
<text x="414" y="520" transform="rotate(10 414 520)" class="cl">0.2</text>
<text x="402" y="536" transform="rotate(70 402 536)" class="cl">0.25</text>
<text x="388" y="536" transform="rotate(80 388 536)" class="cl">0.3</text>
<text x="155" y="634.5" transform="rotate(90 155 634.5)" class="cl">0.85</text>
<text x="327.5" y="677" transform="rotate(80 327.5 677)" class="cl">0.75</text>
<text x="185" y="737" transform="rotate(10 185 737)" class="cl">0.8</text>
<text x="290" y="739" transform="rotate(-50 290 739)" class="cl">0.8</text>
<text x="147.5" y="747" transform="rotate(55 147.5 747)" class="cl">0.75</text>
<text x="140" y="772" transform="rotate(55 140 772)" class="cl">0.7</text>
<text x="162.5" y="814.5" transform="rotate(30 162.5 814.5)" class="cl">0.65</text>
<text x="132.5" y="814.5" transform="rotate(50 132.5 814.5)" class="cl">0.6</text>
<text x="115" y="822" transform="rotate(30 115 822)" class="cl">0.55</text>
<text x="87.5" y="829.5" transform="rotate(45 87.5 829.5)" class="cl">0.5</text>
</g>
<rect x="66" y="494.4" width="387.3" height="349.7" fill="none" stroke="#262626" stroke-width="0.8"/>
<text x="86.4" y="864.1" class="tk" text-anchor="middle">130</text>
<text x="127.2" y="864.1" class="tk" text-anchor="middle">140</text>
<text x="167.9" y="864.1" class="tk" text-anchor="middle">150</text>
<text x="208.7" y="864.1" class="tk" text-anchor="middle">160</text>
<text x="249.5" y="864.1" class="tk" text-anchor="middle">170</text>
<text x="290.2" y="864.1" class="tk" text-anchor="middle">180</text>
<text x="331.0" y="864.1" class="tk" text-anchor="middle">190</text>
<text x="371.8" y="864.1" class="tk" text-anchor="middle">200</text>
<text x="412.5" y="864.1" class="tk" text-anchor="middle">210</text>
<text x="453.3" y="864.1" class="tk" text-anchor="middle">220</text>
<text x="59.5" y="848.9" class="tk" text-anchor="end">700</text>
<text x="59.5" y="805.2" class="tk" text-anchor="end">750</text>
<text x="59.5" y="761.5" class="tk" text-anchor="end">800</text>
<text x="59.5" y="717.8" class="tk" text-anchor="end">850</text>
<text x="59.5" y="674.0" class="tk" text-anchor="end">900</text>
<text x="59.5" y="630.3" class="tk" text-anchor="end">950</text>
<text x="59.5" y="586.6" class="tk" text-anchor="end">1000</text>
<text x="59.5" y="542.9" class="tk" text-anchor="end">1050</text>
<text x="59.5" y="499.2" class="tk" text-anchor="end">1100</text>
<path d="M86.4 844.1v-3.5M86.4 494.4v3.5M127.2 844.1v-3.5M127.2 494.4v3.5M167.9 844.1v-3.5M167.9 494.4v3.5M208.7 844.1v-3.5M208.7 494.4v3.5M249.5 844.1v-3.5M249.5 494.4v3.5M290.2 844.1v-3.5M290.2 494.4v3.5M331.0 844.1v-3.5M331.0 494.4v3.5M371.8 844.1v-3.5M371.8 494.4v3.5M412.5 844.1v-3.5M412.5 494.4v3.5M453.3 844.1v-3.5M453.3 494.4v3.5M66.0 844.1h3.5M453.3 844.1h-3.5M66.0 800.4h3.5M453.3 800.4h-3.5M66.0 756.7h3.5M453.3 756.7h-3.5M66.0 713.0h3.5M453.3 713.0h-3.5M66.0 669.2h3.5M453.3 669.2h-3.5M66.0 625.5h3.5M453.3 625.5h-3.5M66.0 581.8h3.5M453.3 581.8h-3.5M66.0 538.1h3.5M453.3 538.1h-3.5M66.0 494.4h3.5M453.3 494.4h-3.5" stroke="#262626" stroke-width="0.7" fill="none"/>
<linearGradient id="gc" x1="0" y1="0" x2="0" y2="1"><stop offset="0.0000" stop-color="#800000"/><stop offset="0.0312" stop-color="#9f0000"/><stop offset="0.0625" stop-color="#bf0000"/><stop offset="0.0938" stop-color="#df0000"/><stop offset="0.1250" stop-color="#ff0000"/><stop offset="0.1562" stop-color="#ff2000"/><stop offset="0.1875" stop-color="#ff4000"/><stop offset="0.2188" stop-color="#ff6000"/><stop offset="0.2500" stop-color="#ff8000"/><stop offset="0.2812" stop-color="#ff9f00"/><stop offset="0.3125" stop-color="#ffbf00"/><stop offset="0.3438" stop-color="#ffdf00"/><stop offset="0.3750" stop-color="#ffff00"/><stop offset="0.4062" stop-color="#dfff20"/><stop offset="0.4375" stop-color="#bfff40"/><stop offset="0.4688" stop-color="#9fff60"/><stop offset="0.5000" stop-color="#80ff80"/><stop offset="0.5312" stop-color="#60ff9f"/><stop offset="0.5625" stop-color="#40ffbf"/><stop offset="0.5938" stop-color="#20ffdf"/><stop offset="0.6250" stop-color="#00ffff"/><stop offset="0.6562" stop-color="#00dfff"/><stop offset="0.6875" stop-color="#00bfff"/><stop offset="0.7188" stop-color="#009fff"/><stop offset="0.7500" stop-color="#0080ff"/><stop offset="0.7812" stop-color="#0060ff"/><stop offset="0.8125" stop-color="#0040ff"/><stop offset="0.8438" stop-color="#0020ff"/><stop offset="0.8750" stop-color="#0000ff"/><stop offset="0.9062" stop-color="#0000df"/><stop offset="0.9375" stop-color="#0000bf"/><stop offset="0.9688" stop-color="#00009f"/><stop offset="1.0000" stop-color="#000080"/></linearGradient>
<rect x="475.6" y="494.4" width="21.4" height="349.7" fill="url(#gc)" stroke="#262626" stroke-width="0.6"/>
<text x="502.5" y="815.7" class="tk">0.2</text>
<text x="502.5" y="767.2" class="tk">0.3</text>
<text x="502.5" y="718.8" class="tk">0.4</text>
<text x="502.5" y="670.4" class="tk">0.5</text>
<text x="502.5" y="621.9" class="tk">0.6</text>
<text x="502.5" y="573.5" class="tk">0.7</text>
<text x="502.5" y="525.1" class="tk">0.8</text>
<path d="M497.0 811.2h-2.5M497.0 762.7h-2.5M497.0 714.3h-2.5M497.0 665.9h-2.5M497.0 617.4h-2.5M497.0 569.0h-2.5M497.0 520.6h-2.5" stroke="#262626" stroke-width="0.6"/>
<text x="258.6" y="882.9" class="al" text-anchor="middle">Titanium Oxide</text>
<text x="21.5" y="669.2" class="al" text-anchor="middle" transform="rotate(-90 21.5 669.2)">Groove depth</text>
<text x="266.8" y="912.5" class="cap" text-anchor="middle" textLength="93.9" lengthAdjust="spacing">(c) <tspan font-style="italic">f</tspan>=0.4</text>
<clipPath id="clipd"><rect x="604" y="494.1" width="388" height="350"/></clipPath>
<g clip-path="url(#clipd)">
<rect x="604" y="494.1" width="388" height="350" fill="#000090"/>
<path d="M605 494.1l371.5 0l-0.3 33l0.5 20l0.7 9l6.5 31l4.1 10l4 6l0 241l-388 0l0 -350l1 0z" fill="#0000dd" fill-rule="evenodd"/>
<path d="M605 494.1l322.7 0l-1.3 4l-0.5 5l0.1 27l4.7 47l1.3 6.3l1 1.2l2 -0.4l8 -8.9l4 -3.1l3 -0.8l3 0.9l3 2.5l3 3.5l11 15.8l7 9l15 14.7l0 226.3l-388 0l0 -350l1 0zM945 494.9l2 -0.5l2 0.8l1.6 1.9l0.6 2l-0.2 6.2l-2 10.6l-1 2l-1 -0.6l-0.3 -1.2l-2.8 -14l-0.1 -5l1.2 -2.2z" fill="#002bff" fill-rule="evenodd"/>
<path d="M605 494.1l307.4 0l2.8 37l2.1 19l7.4 41l1.7 5l3.6 7.7l2 2l2 -0.1l2 -1.7l10.5 -13.9l2.5 -1.6l3 0.2l3 2.2l3 3.3l28.4 32.9l5.6 7.8l0 209.2l-376.2 0l-6.8 -4.9l-5 -2.8l0 -342.3l1 0z" fill="#0078ff" fill-rule="evenodd"/>
<path d="M629 494.6l1.1 -0.5l267.9 0l2 6.6l5 33.4l3.7 19l10.6 41l4.5 13l3.2 6.7l4 5.2l2 1.5l2 0.5l4 -1.7l7 -6.5l3 -1.9l3 -0.3l3 1.4l6 5.7l9.9 11.4l21.1 32.4l0 182.6l-351.6 0l-7.4 -2.3l-12.9 -7.7l-16.1 -7.9l0 -324l13.7 -2.1l11.3 -5.5z" fill="#00c5ff" fill-rule="evenodd"/>
<path d="M690 495l3.5 -0.9l92.2 0l15.3 7.6l4 1.3l4 0.5l6 -1.2l22 -7.7l2.4 -0.5l8.2 0l4.4 1.7l3.2 3.3l9.8 21l4 5.8l2 1.4l3 0.9l12 -0.7l2 0.6l2 1.5l2 3l2 5.1l8.6 26.4l10 28l7.4 17l8.3 17l2.7 2.8l6 1.7l4 -0.3l8 -3.3l2 0.1l3 2l25 34.3l13 19.1l0 161.6l-317.8 0l-6.2 -5.1l-6 -3.4l-26 -8.8l-21 -8.8l-11 -5.5l0 -298l20 -3.6l25 -8.7l20 -3.2l21 -4z" fill="#12ffed" fill-rule="evenodd"/>
<path d="M766 497.1l3 0.4l3 1.1l18 11l11 5.4l6 2l10 0.5l24 -2.5l4 0.6l3 1.6l4 4.7l10 15.1l27 34.2l20 27.6l7 11.8l8 18.6l5 8.8l2.8 2.1l6.2 1.6l3 1.5l3 2.8l5.3 7.1l2.9 3l15.8 10.2l4.4 4.8l8.2 12l11.4 18.7l0 142.3l-300.9 0l-12.1 -8.8l-8 -5l-22 -11.2l-45 -24.4l0 -264.5l21 -4.7l24 -7.5l32 -5.8l6 -2l12 -5.2l6 -1.8l13 -1l18 1.5l7 -0.2l8 -1.5l11 -4.2l4 -0.7z" fill="#5fffa0" fill-rule="evenodd"/>
<path d="M762 509l4 -0.4l5 1.5l15 8.5l14 7l32 13.1l9 5.3l8 5.6l31 31l27 28.2l6 8.9l10 20.4l3.4 5l7.2 6l8.4 10l16 7.5l3.4 2.5l3.5 4l27.1 47.5l0 123.5l-281.2 0l-5.5 -8l-6.3 -5.2l-41 -25.4l-34 -16.3l-9.5 -7.1l-10.5 -9.5l0 -224.7l45 -14.3l32 -8.7l21 -9.7l7 -0.7l21 1.1l8 -0.1l9 -1.9l15 -4.6z" fill="#acff53" fill-rule="evenodd"/>
<path d="M752 526.1l10 -0.6l6 0.9l19 9.3l27 9.4l7 3l5.2 3l5.7 5l28.1 28.2l27 21.8l8.2 8l13.8 17.1l15.8 23.9l2.6 5l3.6 11l2 2.9l1 0.6l2 -0.1l7 -3.8l5 -1l5 1.3l4 3.6l3 5l8 16l16 34.3l8 14.1l0 100.1l-266.9 0l-3.1 -3.3l-10 -15.4l-7.5 -8.3l-19.5 -13.1l-16 -11.9l-23 -20.1l-6 -2.9l-12 -3.3l-5 -2.6l-6 -5.4l-13 -14.4l0 -177l9.8 -5.3l12.2 -5.5l22 -7.3l32 -9.2l22 -9.8l5 -0.7l16 -0.4l29 -2.1z" fill="#f9ff06" fill-rule="evenodd"/>
<path d="M762 536.1l4 0.4l3 1l20 11.6l25 9.5l9 6.3l48.1 44.2l6.7 8l22.2 28.6l15.3 16.4l4.4 7l4.7 11l4.9 9l2.7 8l1 1.4l2 1.1l2 -0.1l10 -3.9l3 0.7l2 2.1l7.9 13.7l8 11l2.3 4l11.5 32l7.8 17l2.5 8.1l0 26.6l-1.2 4.3l-2.8 7l-3.6 6l-4.3 5l-5.1 4.3l-6.1 3.7l-7.3 3l-161.4 0l-11.2 -4.6l-16 -3.8l-5 -2l-4 -3.2l-8.5 -9.4l-4.7 -4l-5 -3l-17 -8l-4.8 -3.1l-19 -18.9l-8 -6.3l-10.4 -5.7l-15.1 -5l-5.5 -2.7l-5.2 -5.3l-11.8 -18.1l-4 -3.7l-2 -0.7l-3 0.1l-9 3.5l-4 0.4l-3.5 -1.5l-3.5 -4l-16 -29.1l0 -106.9l14 -13.6l7 -5.5l49 -22.5l27 -15l7 -1.5l30 -1.1l24 -3.8z" fill="#ffb800" fill-rule="evenodd"/>
<path d="M759 549l5 -0.7l5 1.3l30 18.1l6 2.5l8.7 1.9l5.3 3.3l38.1 34.7l5.9 7.2l26.7 36.8l4.3 4.2l10 6.4l3 3.2l3.6 7.2l10.6 30l6.5 15l1.7 6l1.3 8l1.3 3l1 0.9l2 0.5l3 -1l3.3 -3.4l2.4 -6l1.3 -1.9l2 -1.2l2 0.5l3 5.2l14.9 37.4l1.8 6l0.8 5l-0.2 7l-1 8l-1.7 7l-3.1 8l-2.7 5l-2.9 3l-5.3 3l-10.5 4l-27.1 7.5l-8 1.3l-32 3.2l-11 -0.5l-33 -6.1l-21 -0.9l-10 -2.9l-8 -3.3l-5 -3.1l-4.7 -4.2l-9.3 -10l-4 -3.1l-2 -0.7l-3 -0.1l-9 2.4l-5 0.4l-4 -1l-5 -3.1l-8 -7.4l-6.2 -7.4l-15.8 -31.7l-5 -7.4l-2 -1.5l-2 -0.8l-3 0.1l-10 1.6l-3 -0.5l-3 -1.5l-8.2 -8.3l-8.3 -7l-3.5 -3.8l-14 -25.1l-4 -5.4l-2 -1.4l-3 -0.9l-11 0.3l-2.2 -0.7l-2.2 -2l-1.6 -3.8l-1 -5.2l-1.4 -12l-0.2 -7l2.8 -35l1.4 -5l3 -4l19.4 -16.7l17.5 -20.3l7.8 -6l11.7 -7.4l10 -4.3l10 -3.3l33 -3.5l7 -1.7l15 -4.9z" fill="#ff6c00" fill-rule="evenodd"/>
<path d="M756 567.1l9 -0.7l7 2.1l13.5 7.6l13.5 11.2l4 2.7l4 1.4l8 1l7 4.1l12.7 10.6l6.4 7l12.5 18l13.4 21.7l4 5.5l7 5.2l6 2.7l10 3.4l2.3 1.5l1.8 2l2.9 7.5l8.6 33.5l1.7 25l0.1 13l-0.8 19l-1.6 7l-2 3.3l-3.1 3.7l-4.9 4.6l-4 2.9l-4 1.8l-5 1.5l-28 6.4l-9 1.5l-37 1.1l-7 -0.7l-10 -2.3l-4.4 -1.8l-3.6 -2.4l-13 -13.4l-5 -3.9l-3 -1.1l-3 -0.1l-11 1.9l-5 -0.2l-6 -2.9l-10 -7.7l-5 -5.1l-3.3 -5.1l-4.7 -11.8l-5.1 -17.2l-2.3 -4l-2.6 -2.6l-4 -1.8l-4 -0.1l-4 1.1l-7 3.4l-2 0.4l-3 -1.1l-3 -3.5l-4 -8l-10 -25.8l-1.9 -7l-0.8 -8l-0.6 -44l0.4 -9l2.1 -7l7.4 -16l4.1 -7l4.2 -4l10.3 -6l10.4 -5l9.4 -2.5l44 -7.5z" fill="#ff1f00" fill-rule="evenodd"/>
<path d="M763 583.8l4 -0.2l4 1.5l7 4.8l23 18l5 2.4l10 2.1l9 5.8l7 6.6l11 13.4l8 11.7l5 8.8l1.6 4.4l1.1 6l2.3 25l0.4 17l-0.6 19l-1.7 17l-1.5 7l-2.1 4l-2.3 3l-3.2 2.8l-3 1.7l-7 2.6l-22 6.3l-6 1.3l-5 0.2l-7 -1.8l-9 -4.1l-5 -3.2l-12 -9.2l-5 -2.7l-6 -0.8l-13 1.5l-5 -1.3l-3 -2.1l-3 -3.2l-12 -17.5l-17 -38.5l-3 -5.4l-2 -2.1l-3 -1.3l-12 0l-2.4 -1.2l-1.6 -2.2l-1.3 -5.8l-0.4 -10l1 -21l0.9 -8l2.8 -6.4l10.1 -13.6l3.9 -4.5l4 -3.6l15.7 -9.9l6.3 -2.4l19 -4.1l15 -7.8z" fill="#d10000" fill-rule="evenodd"/>
<path d="M761 615.9l4 -0.5l4 0.9l5 2.9l7.6 5.9l6.5 7l7.9 13.5l3 4l3 2.5l10 6l4 3l6 5.8l4 5.1l2.3 4.1l2.2 6l1.3 6l0.4 5l-0.7 8l-1.4 7l-2.1 4l-2.2 2l-4.8 2.2l-8 2.2l-13 2.8l-7 0.8l-6.2 -1l-12.8 -5.3l-4 -1.1l-5 0l-13 2.7l-3 -0.6l-3 -2.6l-2 -4.2l-6.2 -19.9l-8.4 -23l-1 -7l0.7 -9l1.1 -5l2.4 -6l3.4 -6.3l3.5 -4.7l4.2 -4l5.5 -4l5.7 -3l6.1 -2.2z" fill="#840000" fill-rule="evenodd"/>
<mask id="md" maskUnits="userSpaceOnUse" x="604" y="494.1" width="388" height="350"><rect x="604" y="494.1" width="388" height="350" fill="#fff"/><rect x="623.0" y="502.5" width="23.9" height="9.0" fill="#000" transform="rotate(-10 635.0 507.0)"/><rect x="710.9" y="496.5" width="18.3" height="9.0" fill="#000" transform="rotate(0 720.0 501.0)"/><rect x="705.5" y="509.0" width="23.9" height="9.0" fill="#000" transform="rotate(0 717.5 513.5)"/><rect x="706.9" y="524.0" width="18.3" height="9.0" fill="#000" transform="rotate(0 716.0 528.5)"/><rect x="879.4" y="522.8" width="23.9" height="9.0" fill="#000" transform="rotate(50 891.4 527.3)"/><rect x="905.0" y="547.2" width="23.9" height="9.0" fill="#000" transform="rotate(80 917.0 551.7)"/><rect x="915.5" y="524.5" width="18.3" height="9.0" fill="#000" transform="rotate(90 924.6 529.0)"/><rect x="946.4" y="529.3" width="18.3" height="9.0" fill="#000" transform="rotate(80 955.5 533.8)"/><rect x="961.3" y="524.5" width="23.9" height="9.0" fill="#000" transform="rotate(85 973.3 529.0)"/><rect x="723.0" y="632.5" width="23.9" height="9.0" fill="#000" transform="rotate(-60 735.0 637.0)"/><rect x="860.9" y="632.5" width="18.3" height="9.0" fill="#000" transform="rotate(10 870.0 637.0)"/><rect x="875.5" y="665.0" width="23.9" height="9.0" fill="#000" transform="rotate(40 887.5 669.5)"/><rect x="963.0" y="737.5" width="23.9" height="9.0" fill="#000" transform="rotate(70 975.0 742.0)"/><rect x="765.9" y="757.5" width="18.3" height="9.0" fill="#000" transform="rotate(20 775.0 762.0)"/><rect x="833.4" y="762.5" width="18.3" height="9.0" fill="#000" transform="rotate(-10 842.5 767.0)"/><rect x="700.9" y="767.5" width="18.3" height="9.0" fill="#000" transform="rotate(30 710.0 772.0)"/><rect x="725.5" y="770.0" width="23.9" height="9.0" fill="#000" transform="rotate(35 737.5 774.5)"/><rect x="725.5" y="815.0" width="23.9" height="9.0" fill="#000" transform="rotate(30 737.5 819.5)"/><rect x="713.4" y="817.5" width="18.3" height="9.0" fill="#000" transform="rotate(30 722.5 822.0)"/><rect x="673.0" y="825.0" width="23.9" height="9.0" fill="#000" transform="rotate(-10 685.0 829.5)"/><rect x="665.9" y="832.5" width="18.3" height="9.0" fill="#000" transform="rotate(60 675.0 837.0)"/><rect x="628.0" y="827.5" width="23.9" height="9.0" fill="#000" transform="rotate(10 640.0 832.0)"/></mask>
<path d="M976.5 494.1l-0.3 33l0.5 20l0.7 9l6.5 31l4.1 10l4 6 M927.7 494.1l-1.3 4l-0.5 5l0.1 27l4.7 47l1.3 6.3l1 1.2l2 -0.4l8 -8.9l4 -3.1l3 -0.8l3 0.9l3 2.5l3 3.5l11 15.8l7 9l15 14.7M945 494.9l2 -0.5l2 0.8l1.6 1.9l0.6 2l-0.2 6.2l-2 10.6l-1 2l-1 -0.6l-0.3 -1.2l-2.8 -14l-0.1 -5l1.2 -2.2 M912.4 494.1l2.8 37l2.1 19l7.4 41l1.7 5l3.6 7.7l2 2l2 -0.1l2 -1.7l10.5 -13.9l2.5 -1.6l3 0.2l3 2.2l3 3.3l28.4 32.9l5.6 7.8M615.8 844.1l-6.8 -4.9l-5 -2.8 M898 494.1l2 6.6l5 33.4l3.7 19l10.6 41l4.5 13l3.2 6.7l4 5.2l2 1.5l2 0.5l4 -1.7l7 -6.5l3 -1.9l3 -0.3l3 1.4l6 5.7l9.9 11.4l21.1 32.4M604 502.2l9 -1l5 -1.2l12.1 -5.9M640.4 844.1l-7.4 -2.3l-12.9 -7.7l-16.1 -7.9 M785.7 494.1l15.3 7.6l4 1.3l4 0.5l6 -1.2l17 -6.2l7.4 -2M847.6 494.1l4.4 1.7l3.2 3.3l9.8 21l4 5.8l2 1.4l3 0.9l10 -0.8l3 0.3l2 1l2.1 2.4l2.9 6.6l8.6 26.4l10 28l8.4 19l8 16.1l3 2.1l5 1.3l4 -0.3l8 -3.3l2 0.1l3 2l25 34.3l13 19.1M604 514.5l20 -3.6l25 -8.7l22 -3.5l22.5 -4.6M674.2 844.1l-6.2 -5.1l-6 -3.4l-26 -8.8l-21 -8.8l-11 -5.5 M604 530.2l21 -4.7l24 -7.5l32 -5.8l6 -2l12 -5.2l6 -1.8l13 -1l18 1.5l7 -0.2l8 -1.5l11 -4.2l4 -0.7l3 0.4l3 1.1l18 11l11 5.4l6 2l10 0.5l23 -2.5l3 0.1l3 0.9l3 2.1l2 2.4l11 16.5l27 34.2l19 26.1l8 13.3l8 18.6l5 8.8l2.8 2.1l6.2 1.6l3 1.5l3 2.8l5.3 7.1l2.9 3l12.8 8l4.9 4l10 14l12.1 19.7M691.1 844.1l-12.1 -8.8l-8 -5l-22 -11.2l-45 -24.4 M604 547.9l45 -14.3l32 -8.7l6 -2.5l11 -5.7l5 -1.7l6 -0.5l20 1.1l8 0l9 -1.8l17 -5l4 0l3.9 1.3l15.1 8.5l14 7l32 13.1l13 7.9l7.9 6.5l54.1 55.7l6 8.9l10 20.4l3.4 5l7.2 6l8.4 10l15 6.9l3.2 2.1l3.2 3l4.1 6l24.5 43.5M710.8 844.1l-5.5 -8l-6.3 -5.2l-41 -25.4l-34 -16.3l-9.5 -7.1l-10.5 -9.5 M604 566.4l11.8 -6.3l11.6 -5l21.2 -7l30.4 -8.7l6 -2.3l14 -6.8l7 -1.6l18 -0.6l35 -2.6l6 0.2l6 1.8l17 8.6l19 6.4l13 5.2l5 2.6l4 3.1l31 30.9l27 21.8l7.3 7l14.7 18.1l15.8 23.9l2.6 5l3.6 11l2 2.9l1 0.6l2 -0.1l7 -3.8l4 -1l5 0.8l4 2.9l5 8.1l13 26.5l10 21.9l8 14.1M725.1 844.1l-3.1 -3.3l-10 -15.4l-7.5 -8.3l-19.5 -13.1l-16 -11.9l-23 -20.1l-6 -2.9l-12 -3.3l-5 -2.6l-6 -5.4l-13 -14.4 M604 599.1l14.4 -14l7.6 -5.6l45 -20.5l10 -5.2l17 -9.9l7 -2.5l31 -1.3l23 -3.8l6 0l6 2.2l13 8l6 3l24 9.1l5 3.1l7 5.9l38.9 35.5l8.9 9l26.2 33.6l17 18.6l3 5.3l4.8 11.5l4.5 8l2.7 8l1 1.4l2 1.1l2 -0.1l10 -3.9l3 0.7l2 2.1l7.9 13.7l8 11l2.3 4l11.5 32l7.8 17l2.5 8.1M992 810.8l-1.8 6.3l-2.2 5l-3 5.1l-3.9 4.9l-4.1 3.8l-4.5 3.2l-5.5 2.9l-5.4 2.1M800.2 844.1l-11.2 -4.6l-16 -3.8l-5 -2l-4 -3.2l-8.5 -9.4l-4.7 -4l-5 -3l-17 -8l-4.8 -3.1l-19 -18.9l-8 -6.3l-10.4 -5.7l-15.1 -5l-5.5 -2.7l-5.2 -5.3l-11.8 -18.1l-4 -3.7l-2 -0.7l-3 0.1l-11 3.9l-3 -0.2l-2 -0.9l-3 -3l-3 -4.6l-14 -25.9 M759 549l5 -0.7l5 1.3l30 18.1l6 2.5l8.7 1.9l5.3 3.3l38.1 34.7l5.9 7.2l26.7 36.8l4.3 4.2l10 6.4l3 3.2l3.6 7.2l10.6 30l6.5 15l1.7 6l1.3 8l1.3 3l1 0.9l2 0.5l3 -1l3.3 -3.4l2.4 -6l1.3 -1.9l2 -1.2l2 0.5l3 5.2l14.9 37.4l1.8 6l0.8 5l-0.2 7l-1 8l-1.7 7l-3.1 8l-2.7 5l-2.9 3l-5.3 3l-10.5 4l-27.1 7.5l-8 1.3l-32 3.2l-11 -0.5l-33 -6.1l-21 -0.9l-10 -2.9l-8 -3.3l-5 -3.1l-4.7 -4.2l-9.3 -10l-4 -3.1l-2 -0.7l-3 -0.1l-9 2.4l-5 0.4l-4 -1l-5 -3.1l-8 -7.4l-6.2 -7.4l-15.8 -31.7l-5 -7.4l-2 -1.5l-2 -0.8l-3 0.1l-10 1.6l-3 -0.5l-3 -1.5l-8.2 -8.3l-8.3 -7l-3.5 -3.8l-14 -25.1l-4 -5.4l-2 -1.4l-3 -0.9l-11 0.3l-2.2 -0.7l-2.2 -2l-1.6 -3.8l-1 -5.2l-1.4 -12l-0.2 -7l2.8 -35l1.4 -5l3 -4l19.4 -16.7l17.5 -20.3l7.8 -6l11.7 -7.4l10 -4.3l10 -3.3l33 -3.5l7 -1.7l15 -4.9 M756 567.1l9 -0.7l7 2.1l13.5 7.6l13.5 11.2l4 2.7l4 1.4l8 1l7 4.1l12.7 10.6l6.4 7l12.5 18l13.4 21.7l4 5.5l7 5.2l6 2.7l10 3.4l2.3 1.5l1.8 2l2.9 7.5l8.6 33.5l1.7 25l0.1 13l-0.8 19l-1.6 7l-2 3.3l-3.1 3.7l-4.9 4.6l-4 2.9l-4 1.8l-5 1.5l-28 6.4l-9 1.5l-37 1.1l-7 -0.7l-10 -2.3l-4.4 -1.8l-3.6 -2.4l-13 -13.4l-5 -3.9l-3 -1.1l-3 -0.1l-11 1.9l-5 -0.2l-6 -2.9l-10 -7.7l-5 -5.1l-3.3 -5.1l-4.7 -11.8l-5.1 -17.2l-2.3 -4l-2.6 -2.6l-4 -1.8l-4 -0.1l-4 1.1l-7 3.4l-2 0.4l-3 -1.1l-3 -3.5l-4 -8l-10 -25.8l-1.9 -7l-0.8 -8l-0.6 -44l0.4 -9l2.1 -7l7.4 -16l4.1 -7l4.2 -4l10.3 -6l10.4 -5l9.4 -2.5l44 -7.5 M763 583.8l4 -0.2l4 1.5l7 4.8l23 18l5 2.4l10 2.1l9 5.8l7 6.6l11 13.4l8 11.7l5 8.8l1.6 4.4l1.1 6l2.3 25l0.4 17l-0.6 19l-1.7 17l-1.5 7l-2.1 4l-2.3 3l-3.2 2.8l-3 1.7l-7 2.6l-22 6.3l-6 1.3l-5 0.2l-7 -1.8l-9 -4.1l-5 -3.2l-12 -9.2l-5 -2.7l-6 -0.8l-13 1.5l-5 -1.3l-3 -2.1l-3 -3.2l-12 -17.5l-17 -38.5l-3 -5.4l-2 -2.1l-3 -1.3l-12 0l-2.4 -1.2l-1.6 -2.2l-1.3 -5.8l-0.4 -10l1 -21l0.9 -8l2.8 -6.4l10.1 -13.6l3.9 -4.5l4 -3.6l15.7 -9.9l6.3 -2.4l19 -4.1l15 -7.8 M761 615.9l4 -0.5l4 0.9l5 2.9l7.6 5.9l6.5 7l7.9 13.5l3 4l3 2.5l10 6l4 3l6 5.8l4 5.1l2.3 4.1l2.2 6l1.3 6l0.4 5l-0.7 8l-1.4 7l-2.1 4l-2.2 2l-4.8 2.2l-8 2.2l-13 2.8l-7 0.8l-6.2 -1l-12.8 -5.3l-4 -1.1l-5 0l-13 2.7l-3 -0.6l-3 -2.6l-2 -4.2l-6.2 -19.9l-8.4 -23l-1 -7l0.7 -9l1.1 -5l2.4 -6l3.4 -6.3l3.5 -4.7l4.2 -4l5.5 -4l5.7 -3l6.1 -2.2" fill="none" stroke="#111" stroke-opacity="0.8" stroke-width="0.65" mask="url(#md)"/>
<text x="635" y="507" transform="rotate(-10 635 507)" class="cl">0.45</text>
<text x="720" y="501" transform="rotate(0 720 501)" class="cl">0.5</text>
<text x="717.5" y="513.5" transform="rotate(0 717.5 513.5)" class="cl">0.55</text>
<text x="716" y="528.5" transform="rotate(0 716 528.5)" class="cl">0.6</text>
<text x="891.4" y="527.3" transform="rotate(50 891.4 527.3)" class="cl">0.45</text>
<text x="917" y="551.7" transform="rotate(80 917 551.7)" class="cl">0.35</text>
<text x="924.6" y="529" transform="rotate(90 924.6 529)" class="cl">0.3</text>
<text x="955.5" y="533.8" transform="rotate(80 955.5 533.8)" class="cl">0.3</text>
<text x="973.3" y="529" transform="rotate(85 973.3 529)" class="cl">0.25</text>
<text x="735" y="637" transform="rotate(-60 735 637)" class="cl">0.85</text>
<text x="870" y="637" transform="rotate(10 870 637)" class="cl">0.7</text>
<text x="887.5" y="669.5" transform="rotate(40 887.5 669.5)" class="cl">0.75</text>
<text x="975" y="742" transform="rotate(70 975 742)" class="cl">0.65</text>
<text x="775" y="762" transform="rotate(20 775 762)" class="cl">0.8</text>
<text x="842.5" y="767" transform="rotate(-10 842.5 767)" class="cl">0.8</text>
<text x="710" y="772" transform="rotate(30 710 772)" class="cl">0.7</text>
<text x="737.5" y="774.5" transform="rotate(35 737.5 774.5)" class="cl">0.75</text>
<text x="737.5" y="819.5" transform="rotate(30 737.5 819.5)" class="cl">0.65</text>
<text x="722.5" y="822" transform="rotate(30 722.5 822)" class="cl">0.6</text>
<text x="685" y="829.5" transform="rotate(-10 685 829.5)" class="cl">0.55</text>
<text x="675" y="837" transform="rotate(60 675 837)" class="cl">0.5</text>
<text x="640" y="832" transform="rotate(10 640 832)" class="cl">0.45</text>
</g>
<rect x="604" y="494.1" width="388" height="350" fill="none" stroke="#262626" stroke-width="0.8"/>
<text x="624.4" y="864.1" class="tk" text-anchor="middle">110</text>
<text x="665.3" y="864.1" class="tk" text-anchor="middle">120</text>
<text x="706.1" y="864.1" class="tk" text-anchor="middle">130</text>
<text x="746.9" y="864.1" class="tk" text-anchor="middle">140</text>
<text x="787.8" y="864.1" class="tk" text-anchor="middle">150</text>
<text x="828.6" y="864.1" class="tk" text-anchor="middle">160</text>
<text x="869.5" y="864.1" class="tk" text-anchor="middle">170</text>
<text x="910.3" y="864.1" class="tk" text-anchor="middle">180</text>
<text x="951.2" y="864.1" class="tk" text-anchor="middle">190</text>
<text x="992.0" y="864.1" class="tk" text-anchor="middle">200</text>
<text x="597.5" y="848.9" class="tk" text-anchor="end">700</text>
<text x="597.5" y="813.9" class="tk" text-anchor="end">750</text>
<text x="597.5" y="778.9" class="tk" text-anchor="end">800</text>
<text x="597.5" y="743.9" class="tk" text-anchor="end">850</text>
<text x="597.5" y="708.9" class="tk" text-anchor="end">900</text>
<text x="597.5" y="673.9" class="tk" text-anchor="end">950</text>
<text x="597.5" y="638.9" class="tk" text-anchor="end">1000</text>
<text x="597.5" y="603.9" class="tk" text-anchor="end">1050</text>
<text x="597.5" y="568.9" class="tk" text-anchor="end">1100</text>
<text x="597.5" y="533.9" class="tk" text-anchor="end">1150</text>
<text x="597.5" y="498.9" class="tk" text-anchor="end">1200</text>
<path d="M624.4 844.1v-3.5M624.4 494.1v3.5M665.3 844.1v-3.5M665.3 494.1v3.5M706.1 844.1v-3.5M706.1 494.1v3.5M746.9 844.1v-3.5M746.9 494.1v3.5M787.8 844.1v-3.5M787.8 494.1v3.5M828.6 844.1v-3.5M828.6 494.1v3.5M869.5 844.1v-3.5M869.5 494.1v3.5M910.3 844.1v-3.5M910.3 494.1v3.5M951.2 844.1v-3.5M951.2 494.1v3.5M992.0 844.1v-3.5M992.0 494.1v3.5M604.0 844.1h3.5M992.0 844.1h-3.5M604.0 809.1h3.5M992.0 809.1h-3.5M604.0 774.1h3.5M992.0 774.1h-3.5M604.0 739.1h3.5M992.0 739.1h-3.5M604.0 704.1h3.5M992.0 704.1h-3.5M604.0 669.1h3.5M992.0 669.1h-3.5M604.0 634.1h3.5M992.0 634.1h-3.5M604.0 599.1h3.5M992.0 599.1h-3.5M604.0 564.1h3.5M992.0 564.1h-3.5M604.0 529.1h3.5M992.0 529.1h-3.5M604.0 494.1h3.5M992.0 494.1h-3.5" stroke="#262626" stroke-width="0.7" fill="none"/>
<linearGradient id="gd" x1="0" y1="0" x2="0" y2="1"><stop offset="0.0000" stop-color="#800000"/><stop offset="0.0312" stop-color="#9f0000"/><stop offset="0.0625" stop-color="#bf0000"/><stop offset="0.0938" stop-color="#df0000"/><stop offset="0.1250" stop-color="#ff0000"/><stop offset="0.1562" stop-color="#ff2000"/><stop offset="0.1875" stop-color="#ff4000"/><stop offset="0.2188" stop-color="#ff6000"/><stop offset="0.2500" stop-color="#ff8000"/><stop offset="0.2812" stop-color="#ff9f00"/><stop offset="0.3125" stop-color="#ffbf00"/><stop offset="0.3438" stop-color="#ffdf00"/><stop offset="0.3750" stop-color="#ffff00"/><stop offset="0.4062" stop-color="#dfff20"/><stop offset="0.4375" stop-color="#bfff40"/><stop offset="0.4688" stop-color="#9fff60"/><stop offset="0.5000" stop-color="#80ff80"/><stop offset="0.5312" stop-color="#60ff9f"/><stop offset="0.5625" stop-color="#40ffbf"/><stop offset="0.5938" stop-color="#20ffdf"/><stop offset="0.6250" stop-color="#00ffff"/><stop offset="0.6562" stop-color="#00dfff"/><stop offset="0.6875" stop-color="#00bfff"/><stop offset="0.7188" stop-color="#009fff"/><stop offset="0.7500" stop-color="#0080ff"/><stop offset="0.7812" stop-color="#0060ff"/><stop offset="0.8125" stop-color="#0040ff"/><stop offset="0.8438" stop-color="#0020ff"/><stop offset="0.8750" stop-color="#0000ff"/><stop offset="0.9062" stop-color="#0000df"/><stop offset="0.9375" stop-color="#0000bf"/><stop offset="0.9688" stop-color="#00009f"/><stop offset="1.0000" stop-color="#000080"/></linearGradient>
<rect x="1013.3" y="494.1" width="22" height="350" fill="url(#gd)" stroke="#262626" stroke-width="0.6"/>
<text x="1040.8" y="842.8" class="tk">0.2</text>
<text x="1040.8" y="790.1" class="tk">0.3</text>
<text x="1040.8" y="737.4" class="tk">0.4</text>
<text x="1040.8" y="684.7" class="tk">0.5</text>
<text x="1040.8" y="632.0" class="tk">0.6</text>
<text x="1040.8" y="579.2" class="tk">0.7</text>
<text x="1040.8" y="526.5" class="tk">0.8</text>
<path d="M1035.3 838.3h-2.5M1035.3 785.6h-2.5M1035.3 732.9h-2.5M1035.3 680.2h-2.5M1035.3 627.5h-2.5M1035.3 574.7h-2.5M1035.3 522.0h-2.5" stroke="#262626" stroke-width="0.6"/>
<text x="797.0" y="882.9" class="al" text-anchor="middle">Titanium Oxide</text>
<text x="559.5" y="669.1" class="al" text-anchor="middle" transform="rotate(-90 559.5 669.1)">Groove depth</text>
<text x="817.5" y="912.5" class="cap" text-anchor="middle" textLength="110.6" lengthAdjust="spacing">(d) <tspan font-style="italic">f</tspan>=0.45</text>
</svg></body></html>
